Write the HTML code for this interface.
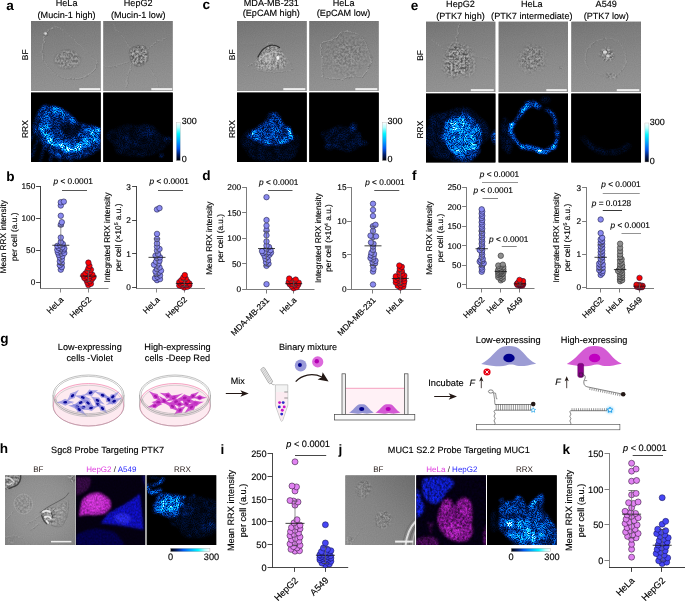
<!DOCTYPE html>
<html lang="en"><head><meta charset="utf-8"><title>Figure</title>
<style>html,body{margin:0;padding:0;background:#fff;}body{width:685px;height:601px;overflow:hidden;}svg{display:block;}</style>
</head><body>
<svg width="685" height="601" viewBox="0 0 685 601" font-family="'Liberation Sans', sans-serif" text-rendering="geometricPrecision">
<defs>
<linearGradient id="cbv" x1="0" y1="0" x2="0" y2="1">
 <stop offset="0" stop-color="#ffffff"/><stop offset="0.13" stop-color="#b8ffff"/><stop offset="0.3" stop-color="#00f6ff"/>
 <stop offset="0.5" stop-color="#00a4ff"/><stop offset="0.68" stop-color="#0058f0"/><stop offset="0.85" stop-color="#001c66"/><stop offset="1" stop-color="#000004"/>
</linearGradient>
<linearGradient id="cbh" x1="1" y1="0" x2="0" y2="0">
 <stop offset="0" stop-color="#ffffff"/><stop offset="0.13" stop-color="#b8ffff"/><stop offset="0.3" stop-color="#00f6ff"/>
 <stop offset="0.5" stop-color="#00a4ff"/><stop offset="0.68" stop-color="#0058f0"/><stop offset="0.85" stop-color="#001c66"/><stop offset="1" stop-color="#000004"/>
</linearGradient>
<linearGradient id="bfbg" x1="0" y1="0" x2="0.15" y2="1">
 <stop offset="0" stop-color="#737373"/><stop offset="0.25" stop-color="#7d7d7d"/><stop offset="0.6" stop-color="#898989"/><stop offset="1" stop-color="#939393"/>
</linearGradient>
<radialGradient id="bfbgh" cx="0.5" cy="0.5" r="0.8">
 <stop offset="0" stop-color="#989898"/><stop offset="0.5" stop-color="#919191"/><stop offset="1" stop-color="#7e7e7e"/>
</radialGradient>
<linearGradient id="bfbgj" x1="0" y1="1" x2="1" y2="0">
 <stop offset="0" stop-color="#909090"/><stop offset="0.5" stop-color="#858585"/><stop offset="1" stop-color="#6c6c6c"/>
</linearGradient>
<filter id="wob" x="-10%" y="-10%" width="120%" height="120%">
 <feTurbulence type="fractalNoise" baseFrequency="0.22" numOctaves="2" seed="5" result="t"/>
 <feDisplacementMap in="SourceGraphic" in2="t" scale="3.2" xChannelSelector="R" yChannelSelector="G" result="d"/>
 <feGaussianBlur in="d" stdDeviation="0.35"/>
</filter>
<filter id="grain" x="0" y="0" width="100%" height="100%" color-interpolation-filters="sRGB">
 <feTurbulence type="fractalNoise" baseFrequency="0.9" numOctaves="1" seed="4"/>
 <feColorMatrix type="matrix" values="1.6 0 0 0 -0.3  1.6 0 0 0 -0.3  1.6 0 0 0 -0.3  0 0 0 0 1"/>
</filter>
<filter id="celltex" x="0" y="0" width="100%" height="100%" color-interpolation-filters="sRGB">
 <feTurbulence type="fractalNoise" baseFrequency="0.49 0.43" numOctaves="3" seed="11"/>
 <feColorMatrix type="matrix" values="2.2 0 0 0 -0.6  2.2 0 0 0 -0.6  2.2 0 0 0 -0.6  0 0 0 0 1"/>
 <feGaussianBlur stdDeviation="0.35"/>
</filter>
<filter id="blur1" x="-20%" y="-20%" width="140%" height="140%"><feGaussianBlur stdDeviation="1"/></filter>
<filter id="blur05" x="-20%" y="-20%" width="140%" height="140%"><feGaussianBlur stdDeviation="0.5"/></filter>
<filter id="blur2" x="-30%" y="-30%" width="160%" height="160%"><feGaussianBlur stdDeviation="2"/></filter>
<filter id="blur3" x="-30%" y="-30%" width="160%" height="160%"><feGaussianBlur stdDeviation="3"/></filter>
<filter id="cyanhot" x="0" y="0" width="100%" height="100%" color-interpolation-filters="sRGB">
 <feTurbulence type="fractalNoise" baseFrequency="0.17 0.15" numOctaves="2" seed="3" result="lt"/>
 <feColorMatrix in="lt" type="matrix" values="2.6 0 0 0 -0.8  2.6 0 0 0 -0.8  2.6 0 0 0 -0.8  0 0 0 0 1" result="ln"/>
 <feComposite in="SourceGraphic" in2="ln" operator="arithmetic" k1="0.9" k2="0.58" k3="0" k4="0" result="env"/>
 <feTurbulence type="fractalNoise" baseFrequency="0.93 0.81" numOctaves="2" seed="7" result="t"/>
 <feColorMatrix in="t" type="matrix" values="3.2 0 0 0 -1.12  3.2 0 0 0 -1.12  3.2 0 0 0 -1.12  0 0 0 0 1" result="n"/>
 <feComposite in="env" in2="n" operator="arithmetic" k1="1.5" k2="0.5" k3="0" k4="0" result="m"/>
 <feGaussianBlur in="m" stdDeviation="0.62" result="mb"/>
 <feComponentTransfer in="mb">
  <feFuncR type="table" tableValues="0 0 0 0 0.05 0.6 1"/>
  <feFuncG type="table" tableValues="0 0.13 0.36 0.6 0.88 1 1"/>
  <feFuncB type="table" tableValues="0 0.42 0.85 1 1 1 1"/>
  <feFuncA type="linear" slope="0" intercept="1"/>
 </feComponentTransfer>
</filter>
<filter id="speck2b" x="0" y="0" width="100%" height="100%" color-interpolation-filters="sRGB">
 <feTurbulence type="fractalNoise" baseFrequency="0.43 0.37" numOctaves="3" seed="31" result="t"/>
 <feColorMatrix in="t" type="matrix" values="2.0 0 0 0 -0.5  2.0 0 0 0 -0.5  2.0 0 0 0 -0.5  0 0 0 0 1" result="n"/>
 <feComposite in="SourceGraphic" in2="n" operator="arithmetic" k1="0.9" k2="0.5" k3="0" k4="0" result="m"/>
 <feGaussianBlur in="m" stdDeviation="0.6" result="mb"/>
 <feComponentTransfer in="mb"><feFuncA type="linear" slope="0" intercept="1"/></feComponentTransfer>
</filter>
<filter id="speck2" x="0" y="0" width="100%" height="100%" color-interpolation-filters="sRGB">
 <feTurbulence type="fractalNoise" baseFrequency="0.55 0.5" numOctaves="3" seed="23" result="t"/>
 <feColorMatrix in="t" type="matrix" values="1.6 0 0 0 -0.3  1.6 0 0 0 -0.3  1.6 0 0 0 -0.3  0 0 0 0 1" result="n"/>
 <feComposite in="SourceGraphic" in2="n" operator="arithmetic" k1="0.5" k2="0.78" k3="0" k4="0" result="m"/>
 <feGaussianBlur in="m" stdDeviation="0.45" result="mb"/>
 <feComponentTransfer in="mb"><feFuncA type="linear" slope="0" intercept="1"/></feComponentTransfer>
</filter>
</defs>
<rect width="685" height="601" fill="#fff"/>
<g id="top-images"><clipPath id="c1"><rect x="31" y="21" width="69.75" height="69.9"/></clipPath><g clip-path="url(#c1)"><rect x="31" y="21" width="69.75" height="69.9" fill="#7a7a7a"/><rect x="31" y="21" width="69.75" height="69.9" fill="url(#bfbg)"/><rect x="31" y="21" width="69.75" height="69.9" filter="url(#grain)" opacity="0.03"/><mask id="m1" maskUnits="userSpaceOnUse" x="31" y="21" width="69.75" height="69.9"><g filter="url(#blur1)"><ellipse cx="67.4" cy="59.6" rx="12.5" ry="9.5" fill="#fff"/></g></mask><g mask="url(#m1)"><rect x="31" y="21" width="69.75" height="69.9" filter="url(#celltex)" opacity="0.2"/></g><g filter="url(#wob)"><path d="M45.5,35 C42,45 41,55 44,60 C47,66 54,74 60,77 C68,80 80,80 88,75 C94,71 98,66 97,62 C92,56 84,50 76,42 C70,36 62,28 56,27 C52,27 48,30 46,33" fill="none" stroke="#b4b4b4" stroke-width="0.9" opacity="0.6" stroke-linecap="round" stroke-linejoin="round" stroke-dasharray="1.6 1.1"/><path d="M45.5,35 C42,45 41,55 44,60 C47,66 54,74 60,77 C68,80 80,80 88,75 C94,71 98,66 97,62 C92,56 84,50 76,42 C70,36 62,28 56,27 C52,27 48,30 46,33" fill="none" stroke="#505050" stroke-width="0.7" opacity="0.48" stroke-linecap="round" stroke-linejoin="round" transform="translate(0.7,0.5)" stroke-dasharray="1.3 1.4"/></g><circle cx="45.3" cy="33.2" r="1.5" fill="#d8d8d8" filter="url(#blur05)"/><circle cx="46" cy="34" r="2" fill="none" stroke="#555" stroke-width="0.5" opacity="0.7"/><path d="M80.1,57.1Q81.6,59.6 80.7,62.4Q79.7,65.1 76.8,66.7Q73.8,68.2 70.6,68.9Q67.4,69.6 63.9,69.3Q60.4,69.1 57.9,67.0Q55.4,65.0 54.5,62.3Q53.6,59.6 54.8,57.0Q56.0,54.5 58.3,52.4Q60.6,50.4 64.0,49.7Q67.4,49.0 70.8,49.7Q74.2,50.4 76.4,52.5Q78.6,54.6 80.1,57.1Z" fill="none" stroke="#5e5e5e" stroke-width="0.8" opacity="0.22" stroke-linecap="round" stroke-linejoin="round" filter="url(#blur05)"/><rect x="79.3" y="88.1" width="21" height="2.1" fill="#eee"/></g>
<clipPath id="c2"><rect x="103.25" y="21" width="69.5" height="69.9"/></clipPath><g clip-path="url(#c2)"><rect x="103.25" y="21" width="69.5" height="69.9" fill="#7a7a7a"/><rect x="103.25" y="21" width="69.5" height="69.9" fill="url(#bfbg)"/><rect x="103.25" y="21" width="69.5" height="69.9" filter="url(#grain)" opacity="0.03"/><mask id="m2" maskUnits="userSpaceOnUse" x="103.25" y="21" width="69.5" height="69.9"><g filter="url(#blur1)"><path d="M147.8,52.9Q148.2,55.5 147.9,58.2Q147.6,60.8 145.6,62.6Q143.6,64.3 141.2,65.3Q138.8,66.3 136.2,65.6Q133.6,64.9 132.3,62.5Q131.0,60.2 130.5,57.9Q130.0,55.5 129.7,52.7Q129.4,49.8 131.8,48.4Q134.1,46.9 136.4,46.3Q138.8,45.7 141.6,45.5Q144.4,45.3 145.9,47.8Q147.4,50.3 147.8,52.9Z" fill="#fff"/></g></mask><g mask="url(#m2)"><rect x="103.25" y="21" width="69.5" height="69.9" filter="url(#celltex)" opacity="0.36"/></g><g filter="url(#wob)"><path d="M128,62 C120,64 112,68 104,66 M130,48 C124,38 118,30 112,24 M147,50 C152,44 158,40 166,38 M146,64 C152,70 156,78 158,86 M132,64 C128,72 126,80 127,88" fill="none" stroke="#b4b4b4" stroke-width="0.9" opacity="0.4" stroke-linecap="round" stroke-linejoin="round" stroke-dasharray="1.6 1.1"/><path d="M128,62 C120,64 112,68 104,66 M130,48 C124,38 118,30 112,24 M147,50 C152,44 158,40 166,38 M146,64 C152,70 156,78 158,86 M132,64 C128,72 126,80 127,88" fill="none" stroke="#505050" stroke-width="0.7" opacity="0.32000000000000006" stroke-linecap="round" stroke-linejoin="round" transform="translate(0.7,0.5)" stroke-dasharray="1.3 1.4"/></g><path d="M148.3,52.8Q148.7,55.5 148.4,58.3Q148.0,61.0 145.9,62.9Q143.9,64.8 141.4,65.8Q138.8,66.7 136.1,66.0Q133.4,65.3 132.0,62.9Q130.5,60.5 129.9,58.0Q129.3,55.5 129.2,52.6Q129.1,49.6 131.4,48.0Q133.8,46.4 136.3,45.8Q138.8,45.1 141.7,45.1Q144.6,45.0 146.2,47.5Q147.8,50.0 148.3,52.8Z" fill="none" stroke="#4a4a4a" stroke-width="0.9" opacity="0.3" stroke-linecap="round" stroke-linejoin="round" filter="url(#blur05)"/><rect x="151.3" y="88.1" width="21" height="2.1" fill="#eee"/></g>
<clipPath id="c3"><rect x="31" y="92.5" width="69.75" height="69.5"/></clipPath><g clip-path="url(#c3)"><rect x="31" y="92.5" width="69.75" height="69.5" fill="#000"/><g filter="url(#cyanhot)"><rect x="31" y="92.5" width="69.75" height="69.5" fill="#000"/><g filter="url(#blur1)"><path d="M33,127 C36,115 40,106 44,105 C48,104 52,106 55,106 C62,108 66,111 70,114 C74,117 76,121 78,122 C84,124 90,125 96,126 L101,129 L101,148 C94,154 86,158 78,158.5 C70,160 62,159 54,157 C48,152 43,146 40,141 C37,137 34,132 33,127Z" fill="#fff" opacity="0.13"/><path d="M44,126 C44,120 44,116 46,113 C48,110 51,109 54,109.5 C58,110 62,113 66,115.5 C69,118 71,120 73,122" fill="none" stroke="#fff" stroke-width="6.5" opacity="0.11" stroke-linecap="round" stroke-linejoin="round"/><path d="M43.8,125.8 C44,130 46,133 48.5,136.3 C51,140 54,142.5 57.8,144.4 C61,146 64,147.5 68.3,147.9 C73,148 77,147 81.1,145.6 C85,144 88,142 91.6,138.6 C94,136 95,134 96.2,131.6" fill="none" stroke="#fff" stroke-width="9" opacity="0.175" stroke-linecap="round" stroke-linejoin="round"/><path d="M50,139 C56,145 62,148 68.3,148.5 C74,148.5 80,147 86,143" fill="none" stroke="#fff" stroke-width="4.5" opacity="0.12" stroke-linecap="round" stroke-linejoin="round"/><path d="M58,146 C62,148.5 70,149.5 76,148" fill="none" stroke="#fff" stroke-width="2.5" opacity="0.1" stroke-linecap="round" stroke-linejoin="round"/><path d="M86,130 L100,133 M84,137 L100,140 M88,134 L98,136" fill="none" stroke="#fff" stroke-width="2" opacity="0.15" stroke-linecap="round" stroke-linejoin="round"/><path d="M38,140 L32,156 M44,148 L40,161 M52,154 L50,162 M35,130 L31,140 M60,155 L60,162 M70,156 L72,162" fill="none" stroke="#fff" stroke-width="2.5" opacity="0.08" stroke-linecap="round" stroke-linejoin="round"/><path d="M60,128 C62,122 68,121 74,122 C78,123 82,125 84,128 C80,132 78,136 72,137 C66,138 60,134 60,128Z" fill="#000" opacity="0.6" filter="url(#blur1)"/></g></g></g>
<clipPath id="c4"><rect x="103.25" y="92.5" width="69.5" height="69.5"/></clipPath><g clip-path="url(#c4)"><rect x="103.25" y="92.5" width="69.5" height="69.5" fill="#000"/><g filter="url(#cyanhot)"><rect x="103.25" y="92.5" width="69.5" height="69.5" fill="#000"/><g filter="url(#blur1)"><path d="M164.9,137.1Q168.5,140.0 167.6,143.6Q166.6,147.1 162.3,150.1Q157.9,153.1 151.4,155.2Q144.9,157.2 137.3,156.6Q129.7,156.0 122.4,154.9Q115.1,153.7 115.1,149.5Q115.1,145.3 111.2,142.6Q107.4,140.0 106.3,136.2Q105.2,132.3 111.2,130.0Q117.2,127.6 123.2,125.3Q129.3,123.0 135.9,125.3Q142.6,127.6 149.1,128.0Q155.5,128.4 158.4,131.3Q161.3,134.2 164.9,137.1Z" fill="#fff" opacity="0.03"/><path d="M155.1,128.0Q156.1,130.0 155.1,132.0Q154.2,134.0 151.5,134.8Q148.8,135.7 146.1,135.4Q143.5,135.2 141.8,134.0Q140.2,132.8 138.3,131.4Q136.4,130.0 137.6,128.3Q138.8,126.5 140.9,125.1Q142.9,123.7 145.8,124.1Q148.6,124.6 151.4,125.3Q154.1,126.1 155.1,128.0Z" fill="#fff" opacity="0.045"/><path d="M171.3,138.6Q171.7,140.0 171.1,141.2Q170.4,142.4 169.2,143.3Q168.0,144.2 166.8,143.3Q165.7,142.3 164.8,141.2Q163.9,140.0 164.6,138.7Q165.3,137.3 166.7,137.0Q168.0,136.7 169.4,136.9Q170.8,137.2 171.3,138.6Z" fill="#fff" opacity="0.07"/><path d="M135.6,140.5Q136.9,143.0 136.6,146.4Q136.4,149.7 132.2,149.8Q128.0,149.8 124.2,149.5Q120.3,149.1 120.0,146.1Q119.7,143.0 120.7,140.5Q121.6,137.9 124.8,135.7Q128.0,133.4 131.1,135.7Q134.2,138.0 135.6,140.5Z" fill="#fff" opacity="0.02"/><circle cx="161.5" cy="155.5" r="1.2" fill="#fff" opacity="0.35"/></g></g></g>
<clipPath id="c5"><rect x="237" y="21" width="69.75" height="69.9"/></clipPath><g clip-path="url(#c5)"><rect x="237" y="21" width="69.75" height="69.9" fill="#7a7a7a"/><rect x="237" y="21" width="69.75" height="69.9" fill="url(#bfbg)"/><rect x="237" y="21" width="69.75" height="69.9" filter="url(#grain)" opacity="0.03"/><mask id="m3" maskUnits="userSpaceOnUse" x="237" y="21" width="69.75" height="69.9"><g filter="url(#blur1)"><path d="M255.5,65 C258,58 261,49 269.5,45.5 C277,44 283.5,51 286.5,61 C288,66 284,69 272,70 C262,70.5 255,69 255.5,65Z" fill="#fff"/></g></mask><g mask="url(#m3)"><rect x="237" y="21" width="69.75" height="69.9" filter="url(#celltex)" opacity="0.34"/></g><path d="M255.5,65 C258,58 261,49 269.5,45.5 C277,44 283.5,51 286.5,61 C288,66 284,69 272,70 C262,70.5 255,69 255.5,65Z" fill="#fff" opacity="0.13" filter="url(#blur1)"/><path d="M258,57 C260.5,51 264,47 270,45.3 C274,44.6 277,45.5 279.5,47.5" fill="none" stroke="#1e1e1e" stroke-width="1.25" opacity="0.8" stroke-linecap="round" stroke-linejoin="round" filter="url(#blur05)"/><ellipse cx="277.8" cy="58" rx="1.5" ry="2.1" fill="#f4f4f4" filter="url(#blur05)"/><ellipse cx="268" cy="59" rx="5" ry="4" fill="#c8c8c8" opacity="0.45" filter="url(#blur1)"/><path d="M260,60 C264,54 271,50.5 280,53" fill="none" stroke="#d8d8d8" stroke-width="1.0" opacity="0.5" stroke-linecap="round" stroke-linejoin="round" filter="url(#blur05)"/><g filter="url(#wob)"><path d="M248,66 C252,63 255,61 257,59 M286.5,58 C289,62 291,66 293,69 M266,46 C268,43 271,42 274,43.5 M252,68 C262,73 282,73 292,69" fill="none" stroke="#b4b4b4" stroke-width="0.9" opacity="0.45" stroke-linecap="round" stroke-linejoin="round" stroke-dasharray="1.6 1.1"/><path d="M248,66 C252,63 255,61 257,59 M286.5,58 C289,62 291,66 293,69 M266,46 C268,43 271,42 274,43.5 M252,68 C262,73 282,73 292,69" fill="none" stroke="#505050" stroke-width="0.7" opacity="0.36000000000000004" stroke-linecap="round" stroke-linejoin="round" transform="translate(0.7,0.5)" stroke-dasharray="1.3 1.4"/></g><rect x="283.3" y="88.1" width="22" height="2.1" fill="#eee"/></g>
<clipPath id="c6"><rect x="309.25" y="21" width="69.5" height="69.9"/></clipPath><g clip-path="url(#c6)"><rect x="309.25" y="21" width="69.5" height="69.9" fill="#7a7a7a"/><rect x="309.25" y="21" width="69.5" height="69.9" fill="url(#bfbg)"/><rect x="309.25" y="21" width="69.5" height="69.9" filter="url(#grain)" opacity="0.03"/><mask id="m4" maskUnits="userSpaceOnUse" x="309.25" y="21" width="69.5" height="69.9"><g filter="url(#blur1)"><path d="M368.6,50.1Q369.8,55.0 368.4,59.8Q367.0,64.7 363.3,68.0Q359.7,71.4 355.7,75.4Q351.8,79.4 346.6,77.1Q341.3,74.8 336.2,73.9Q331.0,73.0 326.7,69.5Q322.3,65.9 323.4,60.5Q324.4,55.0 324.3,49.9Q324.1,44.9 327.4,40.7Q330.6,36.5 335.9,35.8Q341.2,35.0 346.2,34.1Q351.2,33.2 356.4,34.7Q361.7,36.1 364.5,40.6Q367.4,45.1 368.6,50.1Z" fill="#666"/><path d="M361.0,50.3Q361.3,54.0 360.1,57.2Q358.9,60.4 356.5,62.9Q354.2,65.5 350.6,65.7Q347.0,65.9 343.2,66.1Q339.3,66.3 336.5,63.7Q333.7,61.1 333.0,57.6Q332.4,54.0 334.2,51.1Q336.1,48.2 338.0,45.4Q340.0,42.7 343.5,42.2Q347.0,41.7 350.2,42.6Q353.5,43.6 357.1,45.1Q360.8,46.6 361.0,50.3Z" fill="#bbb"/></g></mask><g mask="url(#m4)"><rect x="309.25" y="21" width="69.5" height="69.9" filter="url(#celltex)" opacity="0.22"/></g><g filter="url(#wob)"><path d="M321,44 C326,40 330,42 336,38 C340,32 348,30 354,33 C360,34 364,38 366,44 C368,52 372,56 371,62 C368,68 366,72 362,77 C356,76 350,76 344,78 C338,80 330,79 323,77 C321,70 323,64 322,58 C320,52 320,48 321,44Z" fill="none" stroke="#b4b4b4" stroke-width="0.9" opacity="0.7" stroke-linecap="round" stroke-linejoin="round" stroke-dasharray="1.6 1.1"/><path d="M321,44 C326,40 330,42 336,38 C340,32 348,30 354,33 C360,34 364,38 366,44 C368,52 372,56 371,62 C368,68 366,72 362,77 C356,76 350,76 344,78 C338,80 330,79 323,77 C321,70 323,64 322,58 C320,52 320,48 321,44Z" fill="none" stroke="#505050" stroke-width="0.7" opacity="0.5599999999999999" stroke-linecap="round" stroke-linejoin="round" transform="translate(0.7,0.5)" stroke-dasharray="1.3 1.4"/></g><rect x="355.3" y="88.1" width="22" height="2.1" fill="#eee"/></g>
<clipPath id="c7"><rect x="237" y="92.5" width="69.75" height="69.5"/></clipPath><g clip-path="url(#c7)"><rect x="237" y="92.5" width="69.75" height="69.5" fill="#000"/><g filter="url(#cyanhot)"><rect x="237" y="92.5" width="69.75" height="69.5" fill="#000"/><g filter="url(#blur1)"><path d="M299.9,139.6Q299.4,144.0 298.6,148.0Q297.7,152.0 294.8,156.2Q291.9,160.5 284.2,160.9Q276.6,161.3 269.9,161.5Q263.3,161.6 257.0,160.1Q250.6,158.6 248.5,154.7Q246.4,150.8 243.1,147.4Q239.9,144.0 240.7,139.9Q241.6,135.8 245.3,132.0Q249.1,128.3 256.8,128.8Q264.4,129.3 270.3,128.6Q276.2,127.8 280.9,130.0Q285.6,132.2 293.0,133.7Q300.4,135.2 299.9,139.6Z" fill="#fff" opacity="0.035"/><path d="M248,136 C252,130 256,127 262,124 C266,121 268,114 274,113 C280,113 281,120 284,124 C288,127 292,132 293,139 C286,143 278,145 270,145 C262,144 254,141 248,136Z" fill="#fff" opacity="0.15"/><path d="M249,136.5 L256,131 M288.5,128 L292,138" fill="none" stroke="#fff" stroke-width="2.4" opacity="0.32" stroke-linecap="round" stroke-linejoin="round"/><path d="M256,140 C264,143.5 276,144.5 288,141" fill="none" stroke="#fff" stroke-width="2.6" opacity="0.12" stroke-linecap="round" stroke-linejoin="round"/><path d="M268,116 C270,112 278,112 280,117" fill="none" stroke="#fff" stroke-width="2" opacity="0.08" stroke-linecap="round" stroke-linejoin="round"/></g></g></g>
<clipPath id="c8"><rect x="309.25" y="92.5" width="69.5" height="69.5"/></clipPath><g clip-path="url(#c8)"><rect x="309.25" y="92.5" width="69.5" height="69.5" fill="#000"/><g filter="url(#cyanhot)"><rect x="309.25" y="92.5" width="69.5" height="69.5" fill="#000"/><g filter="url(#blur1)"><path d="M361.2,135.3Q361.3,138.0 362.5,141.1Q363.7,144.2 360.3,146.6Q357.0,149.1 352.4,151.0Q347.8,152.9 342.8,150.8Q337.9,148.7 334.0,147.7Q330.1,146.8 327.9,144.7Q325.7,142.6 324.3,140.3Q323.0,138.0 321.4,134.8Q319.9,131.7 325.3,130.7Q330.8,129.7 333.9,127.4Q337.0,125.1 341.6,126.1Q346.2,127.1 350.3,128.0Q354.3,128.9 357.7,130.7Q361.1,132.6 361.2,135.3Z" fill="#fff" opacity="0.045"/><path d="M356.7,125.0Q356.9,126.5 356.7,128.0Q356.6,129.6 355.0,130.2Q353.5,130.7 351.8,130.3Q350.2,129.8 350.0,128.2Q349.9,126.5 350.4,125.2Q350.9,123.9 352.2,123.0Q353.5,122.1 355.0,122.8Q356.5,123.5 356.7,125.0Z" fill="#fff" opacity="0.09"/><path d="M335.8,144.5Q337.1,146.0 335.3,147.1Q333.4,148.3 331.7,149.3Q330.0,150.4 328.2,149.4Q326.3,148.4 324.6,147.2Q322.8,146.0 324.7,144.9Q326.6,143.7 328.3,142.6Q330.0,141.4 332.3,142.2Q334.6,143.0 335.8,144.5Z" fill="#fff" opacity="0.05"/><path d="M367.9,141.9Q368.6,143.0 367.8,144.1Q366.9,145.1 364.5,145.5Q362.0,145.9 359.6,145.5Q357.2,145.1 356.2,144.0Q355.3,143.0 356.0,141.9Q356.7,140.7 359.4,140.5Q362.0,140.3 364.6,140.5Q367.2,140.8 367.9,141.9Z" fill="#fff" opacity="0.04"/></g></g></g>
<clipPath id="c9"><rect x="426" y="21.5" width="69.5" height="70.6"/></clipPath><g clip-path="url(#c9)"><rect x="426" y="21.5" width="69.5" height="70.6" fill="#7a7a7a"/><rect x="426" y="21.5" width="69.5" height="70.6" fill="url(#bfbg)"/><rect x="426" y="21.5" width="69.5" height="70.6" filter="url(#grain)" opacity="0.03"/><mask id="m5" maskUnits="userSpaceOnUse" x="426" y="21.5" width="69.5" height="70.6"><g filter="url(#blur1)"><path d="M474.6,56.2Q476.2,60.0 476.2,64.6Q476.2,69.3 473.7,73.4Q471.3,77.6 466.5,77.3Q461.7,77.0 457.6,78.7Q453.6,80.5 449.7,78.3Q445.9,76.1 443.3,72.4Q440.7,68.8 441.8,64.4Q442.8,60.0 443.8,56.7Q444.9,53.3 446.1,49.6Q447.3,45.8 450.4,42.7Q453.6,39.7 457.6,41.5Q461.6,43.3 465.4,44.2Q469.2,45.1 471.1,48.7Q473.0,52.4 474.6,56.2Z" fill="#666"/><path d="M468.6,57.2Q469.6,60.0 469.6,63.4Q469.6,66.8 468.0,69.9Q466.4,73.0 463.2,72.7Q459.9,72.5 457.2,73.8Q454.5,75.1 452.0,73.5Q449.4,71.8 447.7,69.2Q446.0,66.5 446.7,63.2Q447.4,60.0 448.1,57.5Q448.7,55.1 449.5,52.3Q450.4,49.6 452.5,47.3Q454.6,45.0 457.2,46.4Q459.9,47.7 462.4,48.4Q465.0,49.0 466.3,51.7Q467.5,54.4 468.6,57.2Z" fill="#fff"/></g></mask><g mask="url(#m5)"><rect x="426" y="21.5" width="69.5" height="70.6" filter="url(#celltex)" opacity="0.38"/></g><g filter="url(#wob)"><path d="M456,44 C457,36 458,30 459,24 M446,50 C440,46 436,42 432,40 M470,56 C478,56 484,58 490,60" fill="none" stroke="#b4b4b4" stroke-width="0.9" opacity="0.5" stroke-linecap="round" stroke-linejoin="round" stroke-dasharray="1.6 1.1"/><path d="M456,44 C457,36 458,30 459,24 M446,50 C440,46 436,42 432,40 M470,56 C478,56 484,58 490,60" fill="none" stroke="#505050" stroke-width="0.7" opacity="0.4" stroke-linecap="round" stroke-linejoin="round" transform="translate(0.7,0.5)" stroke-dasharray="1.3 1.4"/></g><rect x="470.8" y="89.1" width="23" height="2.1" fill="#eee"/></g>
<clipPath id="c10"><rect x="498.5" y="21.5" width="69.5" height="70.6"/></clipPath><g clip-path="url(#c10)"><rect x="498.5" y="21.5" width="69.5" height="70.6" fill="#7a7a7a"/><rect x="498.5" y="21.5" width="69.5" height="70.6" fill="url(#bfbg)"/><rect x="498.5" y="21.5" width="69.5" height="70.6" filter="url(#grain)" opacity="0.03"/><mask id="m6" maskUnits="userSpaceOnUse" x="498.5" y="21.5" width="69.5" height="70.6"><g filter="url(#blur1)"><path d="M547.0,55.1Q546.0,59.0 546.7,62.7Q547.3,66.4 544.3,68.5Q541.3,70.7 538.2,71.7Q535.1,72.7 531.8,73.6Q528.5,74.5 525.3,73.0Q522.0,71.5 519.9,68.7Q517.7,65.9 517.0,62.4Q516.3,59.0 517.6,55.9Q518.9,52.7 521.0,50.2Q523.0,47.7 525.6,45.0Q528.2,42.2 531.7,43.4Q535.3,44.5 539.0,45.1Q542.7,45.6 545.4,48.4Q548.1,51.3 547.0,55.1Z" fill="#555"/><path d="M542.3,56.3Q541.6,59.0 542.1,61.5Q542.6,64.1 540.5,65.6Q538.4,67.0 536.3,67.7Q534.2,68.4 531.9,69.1Q529.6,69.7 527.4,68.6Q525.2,67.6 523.7,65.7Q522.2,63.7 521.7,61.4Q521.2,59.0 522.1,56.8Q523.0,54.7 524.4,53.0Q525.8,51.2 527.6,49.3Q529.4,47.5 531.8,48.2Q534.3,49.0 536.8,49.4Q539.3,49.8 541.2,51.7Q543.0,53.7 542.3,56.3Z" fill="#ddd"/><circle cx="561" cy="68" r="1.6" fill="#fff"/></g></mask><g mask="url(#m6)"><rect x="498.5" y="21.5" width="69.5" height="70.6" filter="url(#celltex)" opacity="0.3"/></g><rect x="546.3" y="89.1" width="20.5" height="2.1" fill="#eee"/></g>
<clipPath id="c11"><rect x="571.25" y="21.5" width="69.75" height="70.6"/></clipPath><g clip-path="url(#c11)"><rect x="571.25" y="21.5" width="69.75" height="70.6" fill="#7a7a7a"/><rect x="571.25" y="21.5" width="69.75" height="70.6" fill="url(#bfbg)"/><rect x="571.25" y="21.5" width="69.75" height="70.6" filter="url(#grain)" opacity="0.03"/><mask id="m7" maskUnits="userSpaceOnUse" x="571.25" y="21.5" width="69.75" height="70.6"><g filter="url(#blur1)"><path d="M613.3,52.0Q614.4,54.0 613.8,56.4Q613.1,58.8 611.2,60.0Q609.2,61.2 607.0,61.2Q604.8,61.2 603.2,59.7Q601.5,58.3 600.2,56.1Q599.0,54.0 600.3,51.9Q601.7,49.9 603.4,48.7Q605.1,47.6 607.0,47.5Q609.0,47.4 610.6,48.6Q612.3,49.9 613.3,52.0Z" fill="#fff"/><path d="M617.5,75.2Q619.1,76.0 618.1,76.9Q617.1,77.9 615.2,78.5Q613.4,79.2 610.9,79.2Q608.5,79.3 607.2,78.5Q605.9,77.6 604.8,76.8Q603.6,76.0 604.0,75.0Q604.4,74.0 606.5,73.3Q608.5,72.7 610.9,72.9Q613.2,73.1 614.6,73.8Q615.9,74.5 617.5,75.2Z" fill="#aaa"/></g></mask><g mask="url(#m7)"><rect x="571.25" y="21.5" width="69.75" height="70.6" filter="url(#celltex)" opacity="0.32"/></g><g filter="url(#wob)"><path d="M624.7,53.0Q625.9,57.0 625.7,61.5Q625.5,65.9 622.4,69.5Q619.4,73.0 615.0,74.7Q610.7,76.4 606.1,76.0Q601.5,75.6 596.9,74.5Q592.3,73.4 589.2,69.7Q586.1,66.1 585.6,61.6Q585.0,57.0 586.0,52.7Q587.1,48.3 590.3,45.2Q593.5,42.0 597.6,40.5Q601.7,39.1 606.1,38.5Q610.6,37.9 614.9,39.5Q619.3,41.1 621.4,45.0Q623.6,48.9 624.7,53.0Z" fill="none" stroke="#b4b4b4" stroke-width="0.9" opacity="0.4" stroke-linecap="round" stroke-linejoin="round" stroke-dasharray="1.6 1.1"/><path d="M624.7,53.0Q625.9,57.0 625.7,61.5Q625.5,65.9 622.4,69.5Q619.4,73.0 615.0,74.7Q610.7,76.4 606.1,76.0Q601.5,75.6 596.9,74.5Q592.3,73.4 589.2,69.7Q586.1,66.1 585.6,61.6Q585.0,57.0 586.0,52.7Q587.1,48.3 590.3,45.2Q593.5,42.0 597.6,40.5Q601.7,39.1 606.1,38.5Q610.6,37.9 614.9,39.5Q619.3,41.1 621.4,45.0Q623.6,48.9 624.7,53.0Z" fill="none" stroke="#505050" stroke-width="0.7" opacity="0.32000000000000006" stroke-linecap="round" stroke-linejoin="round" transform="translate(0.7,0.5)" stroke-dasharray="1.3 1.4"/></g><ellipse cx="605" cy="52" rx="2.2" ry="1.6" fill="#d8d8d8" filter="url(#blur05)"/><ellipse cx="608" cy="56" rx="1.8" ry="1.4" fill="#cfcfcf" filter="url(#blur05)"/><rect x="616.8" y="89.1" width="22.5" height="2.1" fill="#eee"/></g>
<clipPath id="c12"><rect x="426" y="93.5" width="69.5" height="69.1"/></clipPath><g clip-path="url(#c12)"><rect x="426" y="93.5" width="69.5" height="69.1" fill="#000"/><g filter="url(#cyanhot)"><rect x="426" y="93.5" width="69.5" height="69.1" fill="#000"/><g filter="url(#blur1)"><path d="M490.1,130.7Q491.7,137.0 485.6,141.6Q479.5,146.2 476.1,149.6Q472.7,153.0 471.0,160.5Q469.2,168.0 462.1,164.7Q455.0,161.5 450.0,160.2Q444.9,158.9 438.3,158.5Q431.8,158.0 429.9,152.5Q428.1,147.1 423.6,142.0Q419.2,137.0 424.3,132.2Q429.4,127.4 429.2,120.5Q429.1,113.6 436.5,113.3Q444.0,113.0 449.5,110.4Q455.0,107.9 462.0,107.3Q468.9,106.7 473.7,111.2Q478.5,115.7 483.5,120.1Q488.5,124.5 490.1,130.7Z" fill="#fff" opacity="0.045"/><path d="M481.1,130.0Q482.6,134.0 482.0,138.3Q481.4,142.6 479.2,146.2Q477.1,149.8 472.4,149.3Q467.8,148.9 465.6,152.2Q463.4,155.5 460.1,154.8Q456.8,154.0 453.6,153.2Q450.4,152.4 449.1,148.9Q447.8,145.3 446.2,142.8Q444.6,140.2 443.0,137.1Q441.5,134.0 442.9,130.8Q444.3,127.7 445.0,124.2Q445.7,120.8 449.1,120.2Q452.5,119.6 454.9,118.4Q457.3,117.1 460.5,114.2Q463.6,111.4 466.4,113.9Q469.2,116.4 471.9,118.4Q474.6,120.4 477.2,123.3Q479.7,126.1 481.1,130.0Z" fill="#fff" opacity="0.2"/><path d="M473.2,127.2Q473.5,131.0 473.1,134.8Q472.8,138.6 469.1,139.7Q465.3,140.9 463.6,145.1Q461.9,149.3 458.6,146.3Q455.4,143.4 451.9,143.6Q448.5,143.7 448.2,140.0Q448.0,136.2 445.1,133.6Q442.2,131.0 444.9,128.3Q447.6,125.6 448.0,121.8Q448.4,118.1 451.5,116.4Q454.5,114.7 458.0,114.6Q461.5,114.4 464.0,117.0Q466.5,119.6 469.7,121.5Q472.9,123.3 473.2,127.2Z" fill="#fff" opacity="0.09"/><path d="M480.1,148.6Q480.5,152.0 478.2,154.3Q475.8,156.7 474.0,158.4Q472.1,160.1 469.6,161.8Q467.0,163.6 464.7,161.5Q462.3,159.4 458.8,158.8Q455.2,158.3 454.3,155.1Q453.4,152.0 456.2,149.9Q459.0,147.8 459.7,144.7Q460.4,141.6 463.7,141.3Q467.0,141.0 470.2,141.4Q473.4,141.8 476.6,143.5Q479.7,145.3 480.1,148.6Z" fill="#fff" opacity="0.13"/><path d="M456.2,123.7Q456.7,125.0 456.8,126.8Q456.9,128.6 455.4,129.6Q453.8,130.6 452.2,129.8Q450.7,129.1 448.9,128.8Q447.2,128.5 446.9,126.7Q446.7,125.0 447.8,123.9Q448.9,122.7 449.5,121.0Q450.1,119.2 451.7,120.0Q453.4,120.8 454.5,121.6Q455.7,122.3 456.2,123.7Z" fill="#fff" opacity="0.12"/><path d="M451.8,137.6Q452.7,140.0 451.4,142.0Q450.1,144.0 448.9,145.2Q447.6,146.5 445.8,147.2Q444.1,148.0 443.1,145.8Q442.2,143.7 440.7,141.8Q439.2,140.0 439.8,137.3Q440.5,134.7 442.5,134.4Q444.6,134.1 446.3,132.9Q448.0,131.7 449.4,133.5Q450.9,135.3 451.8,137.6Z" fill="#fff" opacity="0.06"/><path d="M497.1,135.2Q497.7,137.0 497.4,139.2Q497.1,141.4 496.4,143.2Q495.6,144.9 494.6,143.9Q493.7,142.8 493.1,141.6Q492.5,140.4 491.8,138.7Q491.1,137.0 491.7,135.1Q492.2,133.2 492.9,131.9Q493.6,130.7 494.6,130.1Q495.5,129.5 496.1,131.5Q496.6,133.4 497.1,135.2Z" fill="#fff" opacity="0.16"/></g></g></g>
<clipPath id="c13"><rect x="498.5" y="93.5" width="69.5" height="69.1"/></clipPath><g clip-path="url(#c13)"><rect x="498.5" y="93.5" width="69.5" height="69.1" fill="#000"/><g filter="url(#cyanhot)"><rect x="498.5" y="93.5" width="69.5" height="69.1" fill="#000"/><g filter="url(#blur1)"><path d="M520,115.5 C522,110 526,106 530,105 C534,104 537,105 539,107" fill="none" stroke="#fff" stroke-width="4.5" opacity="0.26" stroke-linecap="round" stroke-linejoin="round"/><path d="M526,104 C530,101.5 534,102 536,104" fill="none" stroke="#fff" stroke-width="3.5" opacity="0.156" stroke-linecap="round" stroke-linejoin="round"/><path d="M546,110 C549,110 552,112.5 554,116.5 C555.5,119 555.5,121 555.5,123" fill="none" stroke="#fff" stroke-width="3.2" opacity="0.182" stroke-linecap="round" stroke-linejoin="round"/><path d="M519,117 C516,120 514,123 513,125" fill="none" stroke="#fff" stroke-width="2.8" opacity="0.156" stroke-linecap="round" stroke-linejoin="round"/><path d="M513,124 C510.5,127 510,131 513,136.5" fill="none" stroke="#fff" stroke-width="3.6" opacity="0.338" stroke-linecap="round" stroke-linejoin="round"/><path d="M513.5,137 C515,140 517,142.5 521.5,146.5" fill="none" stroke="#fff" stroke-width="2.8" opacity="0.221" stroke-linecap="round" stroke-linejoin="round"/><path d="M522,147 C527,147 532,147.5 537.6,149.8 C541,151.5 545,152.5 549,149.5 C551,148.5 553,147.5 554.5,146.5" fill="none" stroke="#fff" stroke-width="3.8" opacity="0.338" stroke-linecap="round" stroke-linejoin="round"/><path d="M537,150.5 C540,152.5 543,153.5 546,152" fill="none" stroke="#fff" stroke-width="2.8" opacity="0.286" stroke-linecap="round" stroke-linejoin="round"/><path d="M557,132 C558,134 557.5,136 556.5,141 C556,143 555,145 554,146.5" fill="none" stroke="#fff" stroke-width="2.8" opacity="0.221" stroke-linecap="round" stroke-linejoin="round"/><path d="M555.5,124 C556,127 556.5,129 557,132" fill="none" stroke="#fff" stroke-width="2.4" opacity="0.078" stroke-linecap="round" stroke-linejoin="round"/><path d="M558.4,132.3Q558.4,133.2 558.2,133.9Q558.0,134.5 557.4,134.9Q556.8,135.3 556.0,135.1Q555.3,134.9 555.2,134.0Q555.1,133.2 555.3,132.5Q555.6,131.9 556.2,131.6Q556.8,131.2 557.6,131.4Q558.4,131.5 558.4,132.3Z" fill="#fff" opacity="0.325"/><path d="M513.9,124.5Q514.1,125.2 513.8,125.8Q513.6,126.5 512.8,126.7Q512.0,127.0 511.0,126.9Q509.9,126.8 509.7,126.0Q509.5,125.2 509.8,124.4Q510.1,123.7 511.0,123.6Q512.0,123.5 512.9,123.7Q513.8,123.8 513.9,124.5Z" fill="#fff" opacity="0.286"/><path d="M514.2,130.8Q515.2,136.0 514.1,141.0Q513.1,145.9 511.4,150.7Q509.8,155.5 507.3,153.6Q504.7,151.7 502.6,149.1Q500.5,146.6 500.0,141.3Q499.5,136.0 500.1,130.9Q500.7,125.8 502.4,120.7Q504.1,115.6 506.6,118.6Q509.1,121.6 511.2,123.6Q513.3,125.7 514.2,130.8Z" fill="#fff" opacity="0.039"/><path d="M550.3,98.5Q551.1,100.0 550.0,101.3Q548.9,102.6 546.9,102.9Q545.0,103.2 542.7,103.1Q540.5,103.0 540.1,101.5Q539.7,100.0 540.4,98.7Q541.2,97.4 543.1,96.8Q545.0,96.2 547.2,96.6Q549.5,97.0 550.3,98.5Z" fill="#fff" opacity="0.033"/></g></g></g>
<clipPath id="c14"><rect x="571.25" y="93.5" width="69.75" height="69.1"/></clipPath><g clip-path="url(#c14)"><rect x="571.25" y="93.5" width="69.75" height="69.1" fill="#000"/><g filter="url(#cyanhot)"><rect x="571.25" y="93.5" width="69.75" height="69.1" fill="#000"/><g filter="url(#blur1)"><path d="M584,138 C592,152 612,158 628,146" fill="none" stroke="#fff" stroke-width="6" opacity="0.03" stroke-linecap="round" stroke-linejoin="round"/></g></g></g>
<rect x="176.3" y="122.3" width="4" height="38.3" fill="url(#cbv)" stroke="#bbb" stroke-width="0.4"/>
<text x="181.80" y="124.00" font-size="9.0" fill="#000" stroke="#000" stroke-width="0.14">300</text>
<text x="181.80" y="162.40" font-size="9.0" fill="#000" stroke="#000" stroke-width="0.14">0</text>
<rect x="382.3" y="122.3" width="4" height="38.3" fill="url(#cbv)" stroke="#bbb" stroke-width="0.4"/>
<text x="387.40" y="124.00" font-size="9.0" fill="#000" stroke="#000" stroke-width="0.14">300</text>
<text x="387.40" y="162.40" font-size="9.0" fill="#000" stroke="#000" stroke-width="0.14">0</text>
<rect x="644.9" y="123" width="4" height="39" fill="url(#cbv)" stroke="#bbb" stroke-width="0.4"/>
<text x="649.80" y="124.70" font-size="9.0" fill="#000" stroke="#000" stroke-width="0.14">300</text>
<text x="649.80" y="163.80" font-size="9.0" fill="#000" stroke="#000" stroke-width="0.14">0</text></g>
<g id="graphs"><line x1="40.50" y1="186.00" x2="40.50" y2="289.00" stroke="#333" stroke-width="0.9" />
<line x1="40.00" y1="288.50" x2="108.50" y2="288.50" stroke="#7c7c7c" stroke-width="0.9" />
<line x1="36.10" y1="282.50" x2="40.50" y2="282.50" stroke="#333" stroke-width="0.9" />
<text x="35.35" y="285.47" font-size="8.3" text-anchor="end" fill="#000" stroke="#000" stroke-width="0.14">0</text>
<line x1="36.10" y1="250.50" x2="40.50" y2="250.50" stroke="#333" stroke-width="0.9" />
<text x="35.35" y="253.22" font-size="8.3" text-anchor="end" fill="#000" stroke="#000" stroke-width="0.14">50</text>
<line x1="36.10" y1="218.50" x2="40.50" y2="218.50" stroke="#333" stroke-width="0.9" />
<text x="35.35" y="221.22" font-size="8.3" text-anchor="end" fill="#000" stroke="#000" stroke-width="0.14">100</text>
<line x1="36.10" y1="186.50" x2="40.50" y2="186.50" stroke="#333" stroke-width="0.9" />
<text x="35.35" y="189.22" font-size="8.3" text-anchor="end" fill="#000" stroke="#000" stroke-width="0.14">150</text>
<line x1="60.50" y1="288.50" x2="60.50" y2="292.50" stroke="#7c7c7c" stroke-width="0.9" />
<text x="64.10" y="300.15" font-size="8.3" text-anchor="end" fill="#000" stroke="#000" stroke-width="0.14" transform="rotate(-45 64.10 300.15)">HeLa</text>
<line x1="88.50" y1="288.50" x2="88.50" y2="292.50" stroke="#7c7c7c" stroke-width="0.9" />
<text x="91.70" y="300.15" font-size="8.3" text-anchor="end" fill="#000" stroke="#000" stroke-width="0.14" transform="rotate(-45 91.70 300.15)">HepG2</text>
<circle cx="60.80" cy="269.67" r="2.75" fill="#8a8af0" stroke="#15153a" stroke-width="0.55"/>
<circle cx="61.80" cy="267.10" r="2.75" fill="#8a8af0" stroke="#15153a" stroke-width="0.55"/>
<circle cx="59.80" cy="265.18" r="2.75" fill="#8a8af0" stroke="#15153a" stroke-width="0.55"/>
<circle cx="61.80" cy="263.25" r="2.75" fill="#8a8af0" stroke="#15153a" stroke-width="0.55"/>
<circle cx="59.80" cy="261.32" r="2.75" fill="#8a8af0" stroke="#15153a" stroke-width="0.55"/>
<circle cx="61.80" cy="259.40" r="2.75" fill="#8a8af0" stroke="#15153a" stroke-width="0.55"/>
<circle cx="59.80" cy="257.48" r="2.75" fill="#8a8af0" stroke="#15153a" stroke-width="0.55"/>
<circle cx="62.30" cy="256.19" r="2.75" fill="#8a8af0" stroke="#15153a" stroke-width="0.55"/>
<circle cx="58.80" cy="254.91" r="2.75" fill="#8a8af0" stroke="#15153a" stroke-width="0.55"/>
<circle cx="61.30" cy="253.62" r="2.75" fill="#8a8af0" stroke="#15153a" stroke-width="0.55"/>
<circle cx="64.30" cy="252.98" r="2.75" fill="#8a8af0" stroke="#15153a" stroke-width="0.55"/>
<circle cx="57.80" cy="252.34" r="2.75" fill="#8a8af0" stroke="#15153a" stroke-width="0.55"/>
<circle cx="60.30" cy="251.06" r="2.75" fill="#8a8af0" stroke="#15153a" stroke-width="0.55"/>
<circle cx="63.30" cy="250.42" r="2.75" fill="#8a8af0" stroke="#15153a" stroke-width="0.55"/>
<circle cx="57.30" cy="249.78" r="2.75" fill="#8a8af0" stroke="#15153a" stroke-width="0.55"/>
<circle cx="61.30" cy="249.13" r="2.75" fill="#8a8af0" stroke="#15153a" stroke-width="0.55"/>
<circle cx="64.30" cy="248.49" r="2.75" fill="#8a8af0" stroke="#15153a" stroke-width="0.55"/>
<circle cx="58.80" cy="247.85" r="2.75" fill="#8a8af0" stroke="#15153a" stroke-width="0.55"/>
<circle cx="62.30" cy="247.21" r="2.75" fill="#8a8af0" stroke="#15153a" stroke-width="0.55"/>
<circle cx="57.30" cy="245.93" r="2.75" fill="#8a8af0" stroke="#15153a" stroke-width="0.55"/>
<circle cx="60.30" cy="245.28" r="2.75" fill="#8a8af0" stroke="#15153a" stroke-width="0.55"/>
<circle cx="62.80" cy="244.00" r="2.75" fill="#8a8af0" stroke="#15153a" stroke-width="0.55"/>
<circle cx="60.80" cy="242.07" r="2.75" fill="#8a8af0" stroke="#15153a" stroke-width="0.55"/>
<circle cx="60.80" cy="237.58" r="2.75" fill="#8a8af0" stroke="#15153a" stroke-width="0.55"/>
<circle cx="60.80" cy="224.75" r="2.75" fill="#8a8af0" stroke="#15153a" stroke-width="0.55"/>
<circle cx="61.80" cy="222.18" r="2.75" fill="#8a8af0" stroke="#15153a" stroke-width="0.55"/>
<circle cx="60.80" cy="215.77" r="2.75" fill="#8a8af0" stroke="#15153a" stroke-width="0.55"/>
<circle cx="60.80" cy="205.50" r="2.75" fill="#8a8af0" stroke="#15153a" stroke-width="0.55"/>
<circle cx="60.80" cy="202.29" r="2.75" fill="#8a8af0" stroke="#15153a" stroke-width="0.55"/>
<circle cx="63.80" cy="201.65" r="2.75" fill="#8a8af0" stroke="#15153a" stroke-width="0.55"/>
<line x1="52.30" y1="245.28" x2="69.30" y2="245.28" stroke="#111" stroke-width="0.8" />
<line x1="60.80" y1="226.03" x2="60.80" y2="264.53" stroke="#666" stroke-width="0.7" />
<line x1="57.60" y1="226.03" x2="64.00" y2="226.03" stroke="#444" stroke-width="0.7" />
<line x1="57.60" y1="264.53" x2="64.00" y2="264.53" stroke="#444" stroke-width="0.7" />
<circle cx="88.40" cy="285.07" r="2.75" fill="#ff0000" stroke="#15153a" stroke-width="0.55"/>
<circle cx="90.90" cy="283.78" r="2.75" fill="#ff0000" stroke="#15153a" stroke-width="0.55"/>
<circle cx="87.40" cy="282.50" r="2.75" fill="#ff0000" stroke="#15153a" stroke-width="0.55"/>
<circle cx="89.90" cy="281.22" r="2.75" fill="#ff0000" stroke="#15153a" stroke-width="0.55"/>
<circle cx="86.40" cy="279.93" r="2.75" fill="#ff0000" stroke="#15153a" stroke-width="0.55"/>
<circle cx="91.90" cy="279.29" r="2.75" fill="#ff0000" stroke="#15153a" stroke-width="0.55"/>
<circle cx="88.90" cy="278.65" r="2.75" fill="#ff0000" stroke="#15153a" stroke-width="0.55"/>
<circle cx="84.40" cy="278.01" r="2.75" fill="#ff0000" stroke="#15153a" stroke-width="0.55"/>
<circle cx="93.40" cy="277.37" r="2.75" fill="#ff0000" stroke="#15153a" stroke-width="0.55"/>
<circle cx="86.90" cy="276.73" r="2.75" fill="#ff0000" stroke="#15153a" stroke-width="0.55"/>
<circle cx="89.90" cy="276.08" r="2.75" fill="#ff0000" stroke="#15153a" stroke-width="0.55"/>
<circle cx="83.40" cy="275.44" r="2.75" fill="#ff0000" stroke="#15153a" stroke-width="0.55"/>
<circle cx="92.40" cy="274.80" r="2.75" fill="#ff0000" stroke="#15153a" stroke-width="0.55"/>
<circle cx="87.90" cy="274.16" r="2.75" fill="#ff0000" stroke="#15153a" stroke-width="0.55"/>
<circle cx="85.40" cy="273.52" r="2.75" fill="#ff0000" stroke="#15153a" stroke-width="0.55"/>
<circle cx="89.90" cy="272.23" r="2.75" fill="#ff0000" stroke="#15153a" stroke-width="0.55"/>
<circle cx="87.40" cy="270.95" r="2.75" fill="#ff0000" stroke="#15153a" stroke-width="0.55"/>
<circle cx="90.90" cy="269.67" r="2.75" fill="#ff0000" stroke="#15153a" stroke-width="0.55"/>
<circle cx="88.40" cy="268.38" r="2.75" fill="#ff0000" stroke="#15153a" stroke-width="0.55"/>
<circle cx="89.40" cy="265.82" r="2.75" fill="#ff0000" stroke="#15153a" stroke-width="0.55"/>
<circle cx="88.40" cy="262.61" r="2.75" fill="#ff0000" stroke="#15153a" stroke-width="0.55"/>
<line x1="79.90" y1="276.08" x2="96.90" y2="276.08" stroke="#111" stroke-width="0.8" />
<line x1="88.40" y1="270.63" x2="88.40" y2="281.54" stroke="#666" stroke-width="0.7" />
<line x1="85.20" y1="270.63" x2="91.60" y2="270.63" stroke="#444" stroke-width="0.7" />
<line x1="85.20" y1="281.54" x2="91.60" y2="281.54" stroke="#444" stroke-width="0.7" />
<text x="6.40" y="236.80" font-size="8.3" text-anchor="middle" fill="#000" stroke="#000" stroke-width="0.14" transform="rotate(-90 6.40 236.80)">Mean RRX intensity</text>
<text x="16.80" y="236.80" font-size="8.3" text-anchor="middle" fill="#000" stroke="#000" stroke-width="0.14" transform="rotate(-90 16.80 236.80)">per cell (a.u.)</text>
<text x="53.50" y="184.20" font-size="8.3" fill="#000" stroke="#000" stroke-width="0.14" text-anchor="start"><tspan font-style="italic">p</tspan> &lt; 0.0001</text>
<line x1="62.00" y1="190.50" x2="87.00" y2="190.50" stroke="#444" stroke-width="0.9" />
<line x1="136.50" y1="186.00" x2="136.50" y2="289.00" stroke="#333" stroke-width="0.9" />
<line x1="136.00" y1="288.50" x2="205.00" y2="288.50" stroke="#7c7c7c" stroke-width="0.9" />
<line x1="132.10" y1="287.50" x2="136.50" y2="287.50" stroke="#333" stroke-width="0.9" />
<text x="130.85" y="290.47" font-size="8.3" text-anchor="end" fill="#000" stroke="#000" stroke-width="0.14">0</text>
<line x1="132.10" y1="253.50" x2="136.50" y2="253.50" stroke="#333" stroke-width="0.9" />
<text x="130.85" y="256.72" font-size="8.3" text-anchor="end" fill="#000" stroke="#000" stroke-width="0.14">1</text>
<line x1="132.10" y1="220.50" x2="136.50" y2="220.50" stroke="#333" stroke-width="0.9" />
<text x="130.85" y="223.47" font-size="8.3" text-anchor="end" fill="#000" stroke="#000" stroke-width="0.14">2</text>
<line x1="132.10" y1="186.50" x2="136.50" y2="186.50" stroke="#333" stroke-width="0.9" />
<text x="130.85" y="189.97" font-size="8.3" text-anchor="end" fill="#000" stroke="#000" stroke-width="0.14">3</text>
<line x1="156.50" y1="288.50" x2="156.50" y2="292.50" stroke="#7c7c7c" stroke-width="0.9" />
<text x="160.30" y="300.15" font-size="8.3" text-anchor="end" fill="#000" stroke="#000" stroke-width="0.14" transform="rotate(-45 160.30 300.15)">HeLa</text>
<line x1="184.50" y1="288.50" x2="184.50" y2="292.50" stroke="#7c7c7c" stroke-width="0.9" />
<text x="187.60" y="300.15" font-size="8.3" text-anchor="end" fill="#000" stroke="#000" stroke-width="0.14" transform="rotate(-45 187.60 300.15)">HepG2</text>
<circle cx="157.00" cy="280.13" r="2.75" fill="#8a8af0" stroke="#15153a" stroke-width="0.55"/>
<circle cx="160.00" cy="279.12" r="2.75" fill="#8a8af0" stroke="#15153a" stroke-width="0.55"/>
<circle cx="155.00" cy="278.12" r="2.75" fill="#8a8af0" stroke="#15153a" stroke-width="0.55"/>
<circle cx="157.50" cy="276.78" r="2.75" fill="#8a8af0" stroke="#15153a" stroke-width="0.55"/>
<circle cx="160.00" cy="275.44" r="2.75" fill="#8a8af0" stroke="#15153a" stroke-width="0.55"/>
<circle cx="156.50" cy="274.10" r="2.75" fill="#8a8af0" stroke="#15153a" stroke-width="0.55"/>
<circle cx="159.00" cy="272.43" r="2.75" fill="#8a8af0" stroke="#15153a" stroke-width="0.55"/>
<circle cx="155.50" cy="271.42" r="2.75" fill="#8a8af0" stroke="#15153a" stroke-width="0.55"/>
<circle cx="161.00" cy="270.75" r="2.75" fill="#8a8af0" stroke="#15153a" stroke-width="0.55"/>
<circle cx="157.00" cy="269.07" r="2.75" fill="#8a8af0" stroke="#15153a" stroke-width="0.55"/>
<circle cx="159.50" cy="267.40" r="2.75" fill="#8a8af0" stroke="#15153a" stroke-width="0.55"/>
<circle cx="157.00" cy="265.73" r="2.75" fill="#8a8af0" stroke="#15153a" stroke-width="0.55"/>
<circle cx="154.00" cy="264.72" r="2.75" fill="#8a8af0" stroke="#15153a" stroke-width="0.55"/>
<circle cx="158.50" cy="263.38" r="2.75" fill="#8a8af0" stroke="#15153a" stroke-width="0.55"/>
<circle cx="156.00" cy="261.70" r="2.75" fill="#8a8af0" stroke="#15153a" stroke-width="0.55"/>
<circle cx="159.50" cy="260.70" r="2.75" fill="#8a8af0" stroke="#15153a" stroke-width="0.55"/>
<circle cx="157.00" cy="258.02" r="2.75" fill="#8a8af0" stroke="#15153a" stroke-width="0.55"/>
<circle cx="160.00" cy="257.35" r="2.75" fill="#8a8af0" stroke="#15153a" stroke-width="0.55"/>
<circle cx="155.50" cy="255.68" r="2.75" fill="#8a8af0" stroke="#15153a" stroke-width="0.55"/>
<circle cx="158.00" cy="254.00" r="2.75" fill="#8a8af0" stroke="#15153a" stroke-width="0.55"/>
<circle cx="157.00" cy="250.65" r="2.75" fill="#8a8af0" stroke="#15153a" stroke-width="0.55"/>
<circle cx="159.50" cy="248.97" r="2.75" fill="#8a8af0" stroke="#15153a" stroke-width="0.55"/>
<circle cx="157.00" cy="246.63" r="2.75" fill="#8a8af0" stroke="#15153a" stroke-width="0.55"/>
<circle cx="157.00" cy="243.28" r="2.75" fill="#8a8af0" stroke="#15153a" stroke-width="0.55"/>
<circle cx="157.00" cy="238.93" r="2.75" fill="#8a8af0" stroke="#15153a" stroke-width="0.55"/>
<circle cx="157.00" cy="233.90" r="2.75" fill="#8a8af0" stroke="#15153a" stroke-width="0.55"/>
<circle cx="157.00" cy="209.44" r="2.75" fill="#8a8af0" stroke="#15153a" stroke-width="0.55"/>
<circle cx="159.50" cy="208.11" r="2.75" fill="#8a8af0" stroke="#15153a" stroke-width="0.55"/>
<line x1="148.50" y1="257.35" x2="165.50" y2="257.35" stroke="#111" stroke-width="0.8" />
<line x1="157.00" y1="238.92" x2="157.00" y2="275.77" stroke="#666" stroke-width="0.7" />
<line x1="153.80" y1="238.92" x2="160.20" y2="238.92" stroke="#444" stroke-width="0.7" />
<line x1="153.80" y1="275.77" x2="160.20" y2="275.77" stroke="#444" stroke-width="0.7" />
<circle cx="184.30" cy="287.50" r="2.75" fill="#ff0000" stroke="#15153a" stroke-width="0.55"/>
<circle cx="187.30" cy="286.83" r="2.75" fill="#ff0000" stroke="#15153a" stroke-width="0.55"/>
<circle cx="181.80" cy="286.16" r="2.75" fill="#ff0000" stroke="#15153a" stroke-width="0.55"/>
<circle cx="179.30" cy="285.49" r="2.75" fill="#ff0000" stroke="#15153a" stroke-width="0.55"/>
<circle cx="189.30" cy="285.15" r="2.75" fill="#ff0000" stroke="#15153a" stroke-width="0.55"/>
<circle cx="185.30" cy="284.82" r="2.75" fill="#ff0000" stroke="#15153a" stroke-width="0.55"/>
<circle cx="183.30" cy="284.49" r="2.75" fill="#ff0000" stroke="#15153a" stroke-width="0.55"/>
<circle cx="187.30" cy="284.15" r="2.75" fill="#ff0000" stroke="#15153a" stroke-width="0.55"/>
<circle cx="180.80" cy="283.81" r="2.75" fill="#ff0000" stroke="#15153a" stroke-width="0.55"/>
<circle cx="189.30" cy="283.48" r="2.75" fill="#ff0000" stroke="#15153a" stroke-width="0.55"/>
<circle cx="184.80" cy="283.14" r="2.75" fill="#ff0000" stroke="#15153a" stroke-width="0.55"/>
<circle cx="182.30" cy="282.81" r="2.75" fill="#ff0000" stroke="#15153a" stroke-width="0.55"/>
<circle cx="179.30" cy="282.14" r="2.75" fill="#ff0000" stroke="#15153a" stroke-width="0.55"/>
<circle cx="187.30" cy="281.47" r="2.75" fill="#ff0000" stroke="#15153a" stroke-width="0.55"/>
<circle cx="183.80" cy="280.80" r="2.75" fill="#ff0000" stroke="#15153a" stroke-width="0.55"/>
<circle cx="181.30" cy="280.13" r="2.75" fill="#ff0000" stroke="#15153a" stroke-width="0.55"/>
<circle cx="185.80" cy="278.79" r="2.75" fill="#ff0000" stroke="#15153a" stroke-width="0.55"/>
<circle cx="183.30" cy="277.45" r="2.75" fill="#ff0000" stroke="#15153a" stroke-width="0.55"/>
<circle cx="184.80" cy="275.11" r="2.75" fill="#ff0000" stroke="#15153a" stroke-width="0.55"/>
<line x1="175.80" y1="283.48" x2="192.80" y2="283.48" stroke="#111" stroke-width="0.8" />
<line x1="184.30" y1="280.46" x2="184.30" y2="286.50" stroke="#666" stroke-width="0.7" />
<line x1="181.10" y1="280.46" x2="187.50" y2="280.46" stroke="#444" stroke-width="0.7" />
<line x1="181.10" y1="286.50" x2="187.50" y2="286.50" stroke="#444" stroke-width="0.7" />
<text x="110.40" y="237.40" font-size="8.3" text-anchor="middle" fill="#000" stroke="#000" stroke-width="0.14" transform="rotate(-90 110.40 237.40)">Integrated RRX intensity</text>
<text x="120.80" y="237.40" font-size="8.3" text-anchor="middle" fill="#000" stroke="#000" stroke-width="0.14" transform="rotate(-90 120.80 237.40)">per cell (×10<tspan font-size="5.15" dy="-3.15">5</tspan><tspan dy="3.15"> a.u.)</tspan></text>
<text x="149.50" y="184.20" font-size="8.3" fill="#000" stroke="#000" stroke-width="0.14" text-anchor="start"><tspan font-style="italic">p</tspan> &lt; 0.0001</text>
<line x1="158.00" y1="190.50" x2="183.00" y2="190.50" stroke="#444" stroke-width="0.9" />
<line x1="246.50" y1="187.00" x2="246.50" y2="290.00" stroke="#7c7c7c" stroke-width="1.0" />
<line x1="246.00" y1="289.50" x2="314.50" y2="289.50" stroke="#7c7c7c" stroke-width="1.0" />
<line x1="242.10" y1="289.50" x2="246.50" y2="289.50" stroke="#7c7c7c" stroke-width="1.0" />
<text x="241.20" y="292.22" font-size="8.3" text-anchor="end" fill="#000" stroke="#000" stroke-width="0.14">0</text>
<line x1="242.10" y1="263.50" x2="246.50" y2="263.50" stroke="#7c7c7c" stroke-width="1.0" />
<text x="241.20" y="266.72" font-size="8.3" text-anchor="end" fill="#000" stroke="#000" stroke-width="0.14">50</text>
<line x1="242.10" y1="238.50" x2="246.50" y2="238.50" stroke="#7c7c7c" stroke-width="1.0" />
<text x="241.20" y="241.22" font-size="8.3" text-anchor="end" fill="#000" stroke="#000" stroke-width="0.14">100</text>
<line x1="242.10" y1="212.50" x2="246.50" y2="212.50" stroke="#7c7c7c" stroke-width="1.0" />
<text x="241.20" y="215.97" font-size="8.3" text-anchor="end" fill="#000" stroke="#000" stroke-width="0.14">150</text>
<line x1="242.10" y1="187.50" x2="246.50" y2="187.50" stroke="#7c7c7c" stroke-width="1.0" />
<text x="241.20" y="190.47" font-size="8.3" text-anchor="end" fill="#000" stroke="#000" stroke-width="0.14">200</text>
<line x1="266.50" y1="289.50" x2="266.50" y2="293.50" stroke="#7c7c7c" stroke-width="1.0" />
<text x="269.80" y="300.65" font-size="8.3" text-anchor="end" fill="#000" stroke="#000" stroke-width="0.14" transform="rotate(-45 269.80 300.65)">MDA-MB-231</text>
<line x1="293.50" y1="289.50" x2="293.50" y2="293.50" stroke="#7c7c7c" stroke-width="1.0" />
<text x="297.00" y="300.65" font-size="8.3" text-anchor="end" fill="#000" stroke="#000" stroke-width="0.14" transform="rotate(-45 297.00 300.65)">HeLa</text>
<circle cx="266.50" cy="284.16" r="2.75" fill="#8a8af0" stroke="#15153a" stroke-width="0.55"/>
<circle cx="266.50" cy="265.85" r="2.75" fill="#8a8af0" stroke="#15153a" stroke-width="0.55"/>
<circle cx="268.50" cy="263.81" r="2.75" fill="#8a8af0" stroke="#15153a" stroke-width="0.55"/>
<circle cx="266.00" cy="262.29" r="2.75" fill="#8a8af0" stroke="#15153a" stroke-width="0.55"/>
<circle cx="268.00" cy="260.25" r="2.75" fill="#8a8af0" stroke="#15153a" stroke-width="0.55"/>
<circle cx="265.50" cy="258.73" r="2.75" fill="#8a8af0" stroke="#15153a" stroke-width="0.55"/>
<circle cx="267.50" cy="256.69" r="2.75" fill="#8a8af0" stroke="#15153a" stroke-width="0.55"/>
<circle cx="264.50" cy="255.67" r="2.75" fill="#8a8af0" stroke="#15153a" stroke-width="0.55"/>
<circle cx="269.50" cy="254.66" r="2.75" fill="#8a8af0" stroke="#15153a" stroke-width="0.55"/>
<circle cx="266.50" cy="253.64" r="2.75" fill="#8a8af0" stroke="#15153a" stroke-width="0.55"/>
<circle cx="263.00" cy="253.13" r="2.75" fill="#8a8af0" stroke="#15153a" stroke-width="0.55"/>
<circle cx="271.00" cy="252.62" r="2.75" fill="#8a8af0" stroke="#15153a" stroke-width="0.55"/>
<circle cx="268.50" cy="252.11" r="2.75" fill="#8a8af0" stroke="#15153a" stroke-width="0.55"/>
<circle cx="265.00" cy="251.60" r="2.75" fill="#8a8af0" stroke="#15153a" stroke-width="0.55"/>
<circle cx="262.00" cy="251.09" r="2.75" fill="#8a8af0" stroke="#15153a" stroke-width="0.55"/>
<circle cx="270.50" cy="250.08" r="2.75" fill="#8a8af0" stroke="#15153a" stroke-width="0.55"/>
<circle cx="266.50" cy="248.55" r="2.75" fill="#8a8af0" stroke="#15153a" stroke-width="0.55"/>
<circle cx="269.00" cy="247.02" r="2.75" fill="#8a8af0" stroke="#15153a" stroke-width="0.55"/>
<circle cx="266.50" cy="245.50" r="2.75" fill="#8a8af0" stroke="#15153a" stroke-width="0.55"/>
<circle cx="266.50" cy="241.43" r="2.75" fill="#8a8af0" stroke="#15153a" stroke-width="0.55"/>
<circle cx="266.50" cy="235.32" r="2.75" fill="#8a8af0" stroke="#15153a" stroke-width="0.55"/>
<circle cx="266.50" cy="230.24" r="2.75" fill="#8a8af0" stroke="#15153a" stroke-width="0.55"/>
<circle cx="266.50" cy="225.66" r="2.75" fill="#8a8af0" stroke="#15153a" stroke-width="0.55"/>
<circle cx="266.50" cy="220.06" r="2.75" fill="#8a8af0" stroke="#15153a" stroke-width="0.55"/>
<circle cx="266.50" cy="197.17" r="2.75" fill="#8a8af0" stroke="#15153a" stroke-width="0.55"/>
<line x1="258.00" y1="248.55" x2="275.00" y2="248.55" stroke="#111" stroke-width="0.8" />
<line x1="266.50" y1="231.25" x2="266.50" y2="265.85" stroke="#666" stroke-width="0.7" />
<line x1="263.30" y1="231.25" x2="269.70" y2="231.25" stroke="#444" stroke-width="0.7" />
<line x1="263.30" y1="265.85" x2="269.70" y2="265.85" stroke="#444" stroke-width="0.7" />
<circle cx="293.70" cy="288.23" r="2.75" fill="#ff0000" stroke="#15153a" stroke-width="0.55"/>
<circle cx="296.70" cy="287.21" r="2.75" fill="#ff0000" stroke="#15153a" stroke-width="0.55"/>
<circle cx="291.70" cy="286.20" r="2.75" fill="#ff0000" stroke="#15153a" stroke-width="0.55"/>
<circle cx="294.70" cy="285.18" r="2.75" fill="#ff0000" stroke="#15153a" stroke-width="0.55"/>
<circle cx="298.20" cy="284.67" r="2.75" fill="#ff0000" stroke="#15153a" stroke-width="0.55"/>
<circle cx="289.70" cy="284.16" r="2.75" fill="#ff0000" stroke="#15153a" stroke-width="0.55"/>
<circle cx="292.20" cy="283.65" r="2.75" fill="#ff0000" stroke="#15153a" stroke-width="0.55"/>
<circle cx="296.20" cy="283.14" r="2.75" fill="#ff0000" stroke="#15153a" stroke-width="0.55"/>
<circle cx="298.70" cy="282.64" r="2.75" fill="#ff0000" stroke="#15153a" stroke-width="0.55"/>
<circle cx="288.70" cy="282.13" r="2.75" fill="#ff0000" stroke="#15153a" stroke-width="0.55"/>
<circle cx="293.70" cy="281.62" r="2.75" fill="#ff0000" stroke="#15153a" stroke-width="0.55"/>
<circle cx="291.20" cy="280.60" r="2.75" fill="#ff0000" stroke="#15153a" stroke-width="0.55"/>
<circle cx="295.70" cy="279.58" r="2.75" fill="#ff0000" stroke="#15153a" stroke-width="0.55"/>
<circle cx="289.20" cy="278.57" r="2.75" fill="#ff0000" stroke="#15153a" stroke-width="0.55"/>
<line x1="285.20" y1="283.65" x2="302.20" y2="283.65" stroke="#111" stroke-width="0.8" />
<line x1="293.70" y1="281.11" x2="293.70" y2="286.20" stroke="#666" stroke-width="0.7" />
<line x1="290.50" y1="281.11" x2="296.90" y2="281.11" stroke="#444" stroke-width="0.7" />
<line x1="290.50" y1="286.20" x2="296.90" y2="286.20" stroke="#444" stroke-width="0.7" />
<text x="212.40" y="238.20" font-size="8.3" text-anchor="middle" fill="#000" stroke="#000" stroke-width="0.14" transform="rotate(-90 212.40 238.20)">Mean RRX intensity</text>
<text x="222.80" y="238.20" font-size="8.3" text-anchor="middle" fill="#000" stroke="#000" stroke-width="0.14" transform="rotate(-90 222.80 238.20)">per cell (a.u.)</text>
<text x="259.00" y="184.80" font-size="8.3" fill="#000" stroke="#000" stroke-width="0.14" text-anchor="start"><tspan font-style="italic">p</tspan> &lt; 0.0001</text>
<line x1="268.00" y1="190.50" x2="292.50" y2="190.50" stroke="#444" stroke-width="0.9" />
<line x1="351.50" y1="187.00" x2="351.50" y2="290.00" stroke="#7c7c7c" stroke-width="1.0" />
<line x1="351.00" y1="289.50" x2="421.25" y2="289.50" stroke="#7c7c7c" stroke-width="1.0" />
<line x1="347.10" y1="289.50" x2="351.50" y2="289.50" stroke="#7c7c7c" stroke-width="1.0" />
<text x="346.60" y="292.22" font-size="8.3" text-anchor="end" fill="#000" stroke="#000" stroke-width="0.14">0</text>
<line x1="347.10" y1="254.50" x2="351.50" y2="254.50" stroke="#7c7c7c" stroke-width="1.0" />
<text x="346.60" y="257.97" font-size="8.3" text-anchor="end" fill="#000" stroke="#000" stroke-width="0.14">5</text>
<line x1="347.10" y1="221.50" x2="351.50" y2="221.50" stroke="#7c7c7c" stroke-width="1.0" />
<text x="346.60" y="224.22" font-size="8.3" text-anchor="end" fill="#000" stroke="#000" stroke-width="0.14">10</text>
<line x1="347.10" y1="187.50" x2="351.50" y2="187.50" stroke="#7c7c7c" stroke-width="1.0" />
<text x="346.60" y="190.47" font-size="8.3" text-anchor="end" fill="#000" stroke="#000" stroke-width="0.14">15</text>
<line x1="372.50" y1="289.50" x2="372.50" y2="293.50" stroke="#7c7c7c" stroke-width="1.0" />
<text x="376.30" y="300.65" font-size="8.3" text-anchor="end" fill="#000" stroke="#000" stroke-width="0.14" transform="rotate(-45 376.30 300.65)">MDA-MB-231</text>
<line x1="400.50" y1="289.50" x2="400.50" y2="293.50" stroke="#7c7c7c" stroke-width="1.0" />
<text x="403.60" y="300.65" font-size="8.3" text-anchor="end" fill="#000" stroke="#000" stroke-width="0.14" transform="rotate(-45 403.60 300.65)">HeLa</text>
<circle cx="373.00" cy="284.50" r="2.75" fill="#8a8af0" stroke="#15153a" stroke-width="0.55"/>
<circle cx="373.00" cy="271.61" r="2.75" fill="#8a8af0" stroke="#15153a" stroke-width="0.55"/>
<circle cx="373.50" cy="268.90" r="2.75" fill="#8a8af0" stroke="#15153a" stroke-width="0.55"/>
<circle cx="373.00" cy="265.51" r="2.75" fill="#8a8af0" stroke="#15153a" stroke-width="0.55"/>
<circle cx="375.00" cy="263.47" r="2.75" fill="#8a8af0" stroke="#15153a" stroke-width="0.55"/>
<circle cx="372.50" cy="262.12" r="2.75" fill="#8a8af0" stroke="#15153a" stroke-width="0.55"/>
<circle cx="375.50" cy="260.76" r="2.75" fill="#8a8af0" stroke="#15153a" stroke-width="0.55"/>
<circle cx="373.00" cy="259.40" r="2.75" fill="#8a8af0" stroke="#15153a" stroke-width="0.55"/>
<circle cx="370.50" cy="258.05" r="2.75" fill="#8a8af0" stroke="#15153a" stroke-width="0.55"/>
<circle cx="373.50" cy="256.69" r="2.75" fill="#8a8af0" stroke="#15153a" stroke-width="0.55"/>
<circle cx="371.00" cy="255.33" r="2.75" fill="#8a8af0" stroke="#15153a" stroke-width="0.55"/>
<circle cx="374.00" cy="253.98" r="2.75" fill="#8a8af0" stroke="#15153a" stroke-width="0.55"/>
<circle cx="371.50" cy="252.62" r="2.75" fill="#8a8af0" stroke="#15153a" stroke-width="0.55"/>
<circle cx="373.00" cy="249.91" r="2.75" fill="#8a8af0" stroke="#15153a" stroke-width="0.55"/>
<circle cx="373.00" cy="246.51" r="2.75" fill="#8a8af0" stroke="#15153a" stroke-width="0.55"/>
<circle cx="373.50" cy="243.80" r="2.75" fill="#8a8af0" stroke="#15153a" stroke-width="0.55"/>
<circle cx="371.00" cy="242.44" r="2.75" fill="#8a8af0" stroke="#15153a" stroke-width="0.55"/>
<circle cx="373.00" cy="237.02" r="2.75" fill="#8a8af0" stroke="#15153a" stroke-width="0.55"/>
<circle cx="376.00" cy="236.34" r="2.75" fill="#8a8af0" stroke="#15153a" stroke-width="0.55"/>
<circle cx="370.50" cy="235.66" r="2.75" fill="#8a8af0" stroke="#15153a" stroke-width="0.55"/>
<circle cx="373.00" cy="230.91" r="2.75" fill="#8a8af0" stroke="#15153a" stroke-width="0.55"/>
<circle cx="373.00" cy="226.16" r="2.75" fill="#8a8af0" stroke="#15153a" stroke-width="0.55"/>
<circle cx="375.50" cy="224.81" r="2.75" fill="#8a8af0" stroke="#15153a" stroke-width="0.55"/>
<circle cx="373.00" cy="215.99" r="2.75" fill="#8a8af0" stroke="#15153a" stroke-width="0.55"/>
<circle cx="373.00" cy="209.88" r="2.75" fill="#8a8af0" stroke="#15153a" stroke-width="0.55"/>
<circle cx="373.00" cy="203.78" r="2.75" fill="#8a8af0" stroke="#15153a" stroke-width="0.55"/>
<line x1="364.50" y1="245.84" x2="381.50" y2="245.84" stroke="#111" stroke-width="0.8" />
<line x1="373.00" y1="226.16" x2="373.00" y2="265.51" stroke="#666" stroke-width="0.7" />
<line x1="369.80" y1="226.16" x2="376.20" y2="226.16" stroke="#444" stroke-width="0.7" />
<line x1="369.80" y1="265.51" x2="376.20" y2="265.51" stroke="#444" stroke-width="0.7" />
<circle cx="400.30" cy="287.55" r="2.75" fill="#ff0000" stroke="#15153a" stroke-width="0.55"/>
<circle cx="403.30" cy="286.54" r="2.75" fill="#ff0000" stroke="#15153a" stroke-width="0.55"/>
<circle cx="397.80" cy="285.86" r="2.75" fill="#ff0000" stroke="#15153a" stroke-width="0.55"/>
<circle cx="400.80" cy="285.18" r="2.75" fill="#ff0000" stroke="#15153a" stroke-width="0.55"/>
<circle cx="403.80" cy="283.82" r="2.75" fill="#ff0000" stroke="#15153a" stroke-width="0.55"/>
<circle cx="398.80" cy="283.14" r="2.75" fill="#ff0000" stroke="#15153a" stroke-width="0.55"/>
<circle cx="395.80" cy="282.47" r="2.75" fill="#ff0000" stroke="#15153a" stroke-width="0.55"/>
<circle cx="401.30" cy="281.79" r="2.75" fill="#ff0000" stroke="#15153a" stroke-width="0.55"/>
<circle cx="404.30" cy="281.11" r="2.75" fill="#ff0000" stroke="#15153a" stroke-width="0.55"/>
<circle cx="398.30" cy="280.43" r="2.75" fill="#ff0000" stroke="#15153a" stroke-width="0.55"/>
<circle cx="395.80" cy="279.75" r="2.75" fill="#ff0000" stroke="#15153a" stroke-width="0.55"/>
<circle cx="400.80" cy="279.07" r="2.75" fill="#ff0000" stroke="#15153a" stroke-width="0.55"/>
<circle cx="403.80" cy="278.40" r="2.75" fill="#ff0000" stroke="#15153a" stroke-width="0.55"/>
<circle cx="397.80" cy="277.72" r="2.75" fill="#ff0000" stroke="#15153a" stroke-width="0.55"/>
<circle cx="401.80" cy="277.04" r="2.75" fill="#ff0000" stroke="#15153a" stroke-width="0.55"/>
<circle cx="395.80" cy="276.36" r="2.75" fill="#ff0000" stroke="#15153a" stroke-width="0.55"/>
<circle cx="404.30" cy="275.68" r="2.75" fill="#ff0000" stroke="#15153a" stroke-width="0.55"/>
<circle cx="399.80" cy="275.00" r="2.75" fill="#ff0000" stroke="#15153a" stroke-width="0.55"/>
<circle cx="402.30" cy="273.65" r="2.75" fill="#ff0000" stroke="#15153a" stroke-width="0.55"/>
<circle cx="399.30" cy="272.29" r="2.75" fill="#ff0000" stroke="#15153a" stroke-width="0.55"/>
<circle cx="401.80" cy="270.94" r="2.75" fill="#ff0000" stroke="#15153a" stroke-width="0.55"/>
<circle cx="399.80" cy="268.90" r="2.75" fill="#ff0000" stroke="#15153a" stroke-width="0.55"/>
<circle cx="401.80" cy="266.87" r="2.75" fill="#ff0000" stroke="#15153a" stroke-width="0.55"/>
<circle cx="399.30" cy="265.51" r="2.75" fill="#ff0000" stroke="#15153a" stroke-width="0.55"/>
<line x1="391.80" y1="278.40" x2="408.80" y2="278.40" stroke="#111" stroke-width="0.8" />
<line x1="400.30" y1="271.95" x2="400.30" y2="284.84" stroke="#666" stroke-width="0.7" />
<line x1="397.10" y1="271.95" x2="403.50" y2="271.95" stroke="#444" stroke-width="0.7" />
<line x1="397.10" y1="284.84" x2="403.50" y2="284.84" stroke="#444" stroke-width="0.7" />
<text x="320.80" y="238.00" font-size="8.3" text-anchor="middle" fill="#000" stroke="#000" stroke-width="0.14" transform="rotate(-90 320.80 238.00)">Integrated RRX intensity</text>
<text x="331.20" y="238.00" font-size="8.3" text-anchor="middle" fill="#000" stroke="#000" stroke-width="0.14" transform="rotate(-90 331.20 238.00)">per cell (×10<tspan font-size="5.15" dy="-3.15">4</tspan><tspan dy="3.15"> a.u.)</tspan></text>
<text x="365.20" y="184.80" font-size="8.3" fill="#000" stroke="#000" stroke-width="0.14" text-anchor="start"><tspan font-style="italic">p</tspan> &lt; 0.0001</text>
<line x1="374.25" y1="190.50" x2="399.25" y2="190.50" stroke="#444" stroke-width="0.9" />
<line x1="466.50" y1="187.00" x2="466.50" y2="289.00" stroke="#7c7c7c" stroke-width="1.0" />
<line x1="466.00" y1="288.50" x2="534.50" y2="288.50" stroke="#7c7c7c" stroke-width="1.0" />
<line x1="462.10" y1="284.50" x2="466.50" y2="284.50" stroke="#7c7c7c" stroke-width="1.0" />
<text x="461.35" y="287.97" font-size="8.3" text-anchor="end" fill="#000" stroke="#000" stroke-width="0.14">0</text>
<line x1="462.10" y1="265.50" x2="466.50" y2="265.50" stroke="#7c7c7c" stroke-width="1.0" />
<text x="461.35" y="268.22" font-size="8.3" text-anchor="end" fill="#000" stroke="#000" stroke-width="0.14">50</text>
<line x1="462.10" y1="245.50" x2="466.50" y2="245.50" stroke="#7c7c7c" stroke-width="1.0" />
<text x="461.35" y="248.72" font-size="8.3" text-anchor="end" fill="#000" stroke="#000" stroke-width="0.14">100</text>
<line x1="462.10" y1="226.50" x2="466.50" y2="226.50" stroke="#7c7c7c" stroke-width="1.0" />
<text x="461.35" y="229.22" font-size="8.3" text-anchor="end" fill="#000" stroke="#000" stroke-width="0.14">150</text>
<line x1="462.10" y1="206.50" x2="466.50" y2="206.50" stroke="#7c7c7c" stroke-width="1.0" />
<text x="461.35" y="209.72" font-size="8.3" text-anchor="end" fill="#000" stroke="#000" stroke-width="0.14">200</text>
<line x1="462.10" y1="187.50" x2="466.50" y2="187.50" stroke="#7c7c7c" stroke-width="1.0" />
<text x="461.35" y="190.47" font-size="8.3" text-anchor="end" fill="#000" stroke="#000" stroke-width="0.14">250</text>
<line x1="481.50" y1="288.50" x2="481.50" y2="292.50" stroke="#7c7c7c" stroke-width="1.0" />
<text x="485.00" y="300.15" font-size="8.3" text-anchor="end" fill="#000" stroke="#000" stroke-width="0.14" transform="rotate(-45 485.00 300.15)">HepG2</text>
<line x1="500.50" y1="288.50" x2="500.50" y2="292.50" stroke="#7c7c7c" stroke-width="1.0" />
<text x="504.10" y="300.15" font-size="8.3" text-anchor="end" fill="#000" stroke="#000" stroke-width="0.14" transform="rotate(-45 504.10 300.15)">HeLa</text>
<line x1="519.50" y1="288.50" x2="519.50" y2="292.50" stroke="#7c7c7c" stroke-width="1.0" />
<text x="523.30" y="300.15" font-size="8.3" text-anchor="end" fill="#000" stroke="#000" stroke-width="0.14" transform="rotate(-45 523.30 300.15)">A549</text>
<circle cx="481.70" cy="271.74" r="2.75" fill="#8a8af0" stroke="#15153a" stroke-width="0.55"/>
<circle cx="482.20" cy="269.59" r="2.75" fill="#8a8af0" stroke="#15153a" stroke-width="0.55"/>
<circle cx="481.70" cy="267.44" r="2.75" fill="#8a8af0" stroke="#15153a" stroke-width="0.55"/>
<circle cx="482.20" cy="265.28" r="2.75" fill="#8a8af0" stroke="#15153a" stroke-width="0.55"/>
<circle cx="481.20" cy="263.16" r="2.75" fill="#8a8af0" stroke="#15153a" stroke-width="0.55"/>
<circle cx="483.70" cy="263.13" r="2.75" fill="#8a8af0" stroke="#15153a" stroke-width="0.55"/>
<circle cx="479.70" cy="261.60" r="2.75" fill="#8a8af0" stroke="#15153a" stroke-width="0.55"/>
<circle cx="482.20" cy="260.98" r="2.75" fill="#8a8af0" stroke="#15153a" stroke-width="0.55"/>
<circle cx="480.70" cy="260.04" r="2.75" fill="#8a8af0" stroke="#15153a" stroke-width="0.55"/>
<circle cx="482.70" cy="258.83" r="2.75" fill="#8a8af0" stroke="#15153a" stroke-width="0.55"/>
<circle cx="481.70" cy="256.68" r="2.75" fill="#8a8af0" stroke="#15153a" stroke-width="0.55"/>
<circle cx="482.20" cy="254.53" r="2.75" fill="#8a8af0" stroke="#15153a" stroke-width="0.55"/>
<circle cx="481.70" cy="252.37" r="2.75" fill="#8a8af0" stroke="#15153a" stroke-width="0.55"/>
<circle cx="482.20" cy="250.22" r="2.75" fill="#8a8af0" stroke="#15153a" stroke-width="0.55"/>
<circle cx="479.70" cy="249.90" r="2.75" fill="#8a8af0" stroke="#15153a" stroke-width="0.55"/>
<circle cx="481.70" cy="248.07" r="2.75" fill="#8a8af0" stroke="#15153a" stroke-width="0.55"/>
<circle cx="482.20" cy="245.92" r="2.75" fill="#8a8af0" stroke="#15153a" stroke-width="0.55"/>
<circle cx="481.70" cy="243.77" r="2.75" fill="#8a8af0" stroke="#15153a" stroke-width="0.55"/>
<circle cx="482.20" cy="241.62" r="2.75" fill="#8a8af0" stroke="#15153a" stroke-width="0.55"/>
<circle cx="481.70" cy="239.46" r="2.75" fill="#8a8af0" stroke="#15153a" stroke-width="0.55"/>
<circle cx="482.20" cy="237.31" r="2.75" fill="#8a8af0" stroke="#15153a" stroke-width="0.55"/>
<circle cx="481.70" cy="235.16" r="2.75" fill="#8a8af0" stroke="#15153a" stroke-width="0.55"/>
<circle cx="482.20" cy="233.01" r="2.75" fill="#8a8af0" stroke="#15153a" stroke-width="0.55"/>
<circle cx="481.70" cy="230.86" r="2.75" fill="#8a8af0" stroke="#15153a" stroke-width="0.55"/>
<circle cx="482.20" cy="228.71" r="2.75" fill="#8a8af0" stroke="#15153a" stroke-width="0.55"/>
<circle cx="481.70" cy="226.55" r="2.75" fill="#8a8af0" stroke="#15153a" stroke-width="0.55"/>
<circle cx="482.20" cy="224.40" r="2.75" fill="#8a8af0" stroke="#15153a" stroke-width="0.55"/>
<circle cx="481.70" cy="222.25" r="2.75" fill="#8a8af0" stroke="#15153a" stroke-width="0.55"/>
<circle cx="482.20" cy="220.10" r="2.75" fill="#8a8af0" stroke="#15153a" stroke-width="0.55"/>
<circle cx="481.70" cy="217.95" r="2.75" fill="#8a8af0" stroke="#15153a" stroke-width="0.55"/>
<circle cx="482.20" cy="215.80" r="2.75" fill="#8a8af0" stroke="#15153a" stroke-width="0.55"/>
<circle cx="481.70" cy="213.64" r="2.75" fill="#8a8af0" stroke="#15153a" stroke-width="0.55"/>
<circle cx="482.20" cy="211.49" r="2.75" fill="#8a8af0" stroke="#15153a" stroke-width="0.55"/>
<circle cx="481.70" cy="209.34" r="2.75" fill="#8a8af0" stroke="#15153a" stroke-width="0.55"/>
<line x1="475.50" y1="248.73" x2="487.90" y2="248.73" stroke="#111" stroke-width="0.8" />
<line x1="481.70" y1="231.18" x2="481.70" y2="266.28" stroke="#666" stroke-width="0.7" />
<line x1="478.50" y1="231.18" x2="484.90" y2="231.18" stroke="#444" stroke-width="0.7" />
<line x1="478.50" y1="266.28" x2="484.90" y2="266.28" stroke="#444" stroke-width="0.7" />
<circle cx="500.80" cy="280.32" r="2.75" fill="#8f8f8f" stroke="#222" stroke-width="0.55"/>
<circle cx="502.80" cy="279.15" r="2.75" fill="#8f8f8f" stroke="#222" stroke-width="0.55"/>
<circle cx="500.80" cy="277.98" r="2.75" fill="#8f8f8f" stroke="#222" stroke-width="0.55"/>
<circle cx="498.30" cy="277.20" r="2.75" fill="#8f8f8f" stroke="#222" stroke-width="0.55"/>
<circle cx="502.80" cy="276.42" r="2.75" fill="#8f8f8f" stroke="#222" stroke-width="0.55"/>
<circle cx="500.30" cy="275.64" r="2.75" fill="#8f8f8f" stroke="#222" stroke-width="0.55"/>
<circle cx="498.30" cy="274.86" r="2.75" fill="#8f8f8f" stroke="#222" stroke-width="0.55"/>
<circle cx="502.30" cy="274.08" r="2.75" fill="#8f8f8f" stroke="#222" stroke-width="0.55"/>
<circle cx="499.80" cy="273.30" r="2.75" fill="#8f8f8f" stroke="#222" stroke-width="0.55"/>
<circle cx="498.30" cy="272.91" r="2.75" fill="#8f8f8f" stroke="#222" stroke-width="0.55"/>
<circle cx="503.30" cy="272.52" r="2.75" fill="#8f8f8f" stroke="#222" stroke-width="0.55"/>
<circle cx="501.30" cy="272.13" r="2.75" fill="#8f8f8f" stroke="#222" stroke-width="0.55"/>
<circle cx="499.80" cy="271.74" r="2.75" fill="#8f8f8f" stroke="#222" stroke-width="0.55"/>
<circle cx="498.30" cy="271.35" r="2.75" fill="#8f8f8f" stroke="#222" stroke-width="0.55"/>
<circle cx="502.80" cy="270.96" r="2.75" fill="#8f8f8f" stroke="#222" stroke-width="0.55"/>
<circle cx="501.30" cy="270.57" r="2.75" fill="#8f8f8f" stroke="#222" stroke-width="0.55"/>
<circle cx="499.80" cy="270.18" r="2.75" fill="#8f8f8f" stroke="#222" stroke-width="0.55"/>
<circle cx="498.30" cy="269.79" r="2.75" fill="#8f8f8f" stroke="#222" stroke-width="0.55"/>
<circle cx="503.30" cy="269.40" r="2.75" fill="#8f8f8f" stroke="#222" stroke-width="0.55"/>
<circle cx="501.30" cy="268.62" r="2.75" fill="#8f8f8f" stroke="#222" stroke-width="0.55"/>
<circle cx="499.30" cy="267.84" r="2.75" fill="#8f8f8f" stroke="#222" stroke-width="0.55"/>
<circle cx="503.30" cy="267.06" r="2.75" fill="#8f8f8f" stroke="#222" stroke-width="0.55"/>
<circle cx="500.80" cy="266.28" r="2.75" fill="#8f8f8f" stroke="#222" stroke-width="0.55"/>
<circle cx="498.30" cy="265.50" r="2.75" fill="#8f8f8f" stroke="#222" stroke-width="0.55"/>
<circle cx="502.80" cy="264.72" r="2.75" fill="#8f8f8f" stroke="#222" stroke-width="0.55"/>
<circle cx="500.80" cy="255.75" r="2.75" fill="#8f8f8f" stroke="#222" stroke-width="0.55"/>
<line x1="494.60" y1="271.35" x2="507.00" y2="271.35" stroke="#111" stroke-width="0.8" />
<line x1="500.80" y1="266.28" x2="500.80" y2="276.42" stroke="#666" stroke-width="0.7" />
<line x1="497.60" y1="266.28" x2="504.00" y2="266.28" stroke="#444" stroke-width="0.7" />
<line x1="497.60" y1="276.42" x2="504.00" y2="276.42" stroke="#444" stroke-width="0.7" />
<circle cx="520.00" cy="285.78" r="2.75" fill="#ff0000" stroke="#15153a" stroke-width="0.55"/>
<circle cx="522.50" cy="285.39" r="2.75" fill="#ff0000" stroke="#15153a" stroke-width="0.55"/>
<circle cx="517.50" cy="285.00" r="2.75" fill="#ff0000" stroke="#15153a" stroke-width="0.55"/>
<circle cx="521.00" cy="285.00" r="2.75" fill="#ff0000" stroke="#15153a" stroke-width="0.55"/>
<circle cx="519.00" cy="284.61" r="2.75" fill="#ff0000" stroke="#15153a" stroke-width="0.55"/>
<circle cx="520.00" cy="284.61" r="2.75" fill="#ff0000" stroke="#15153a" stroke-width="0.55"/>
<circle cx="523.00" cy="284.22" r="2.75" fill="#ff0000" stroke="#15153a" stroke-width="0.55"/>
<circle cx="522.00" cy="284.22" r="2.75" fill="#ff0000" stroke="#15153a" stroke-width="0.55"/>
<circle cx="517.00" cy="283.83" r="2.75" fill="#ff0000" stroke="#15153a" stroke-width="0.55"/>
<circle cx="521.00" cy="283.83" r="2.75" fill="#ff0000" stroke="#15153a" stroke-width="0.55"/>
<circle cx="519.50" cy="283.44" r="2.75" fill="#ff0000" stroke="#15153a" stroke-width="0.55"/>
<circle cx="522.50" cy="283.05" r="2.75" fill="#ff0000" stroke="#15153a" stroke-width="0.55"/>
<circle cx="518.00" cy="282.66" r="2.75" fill="#ff0000" stroke="#15153a" stroke-width="0.55"/>
<circle cx="521.00" cy="281.88" r="2.75" fill="#ff0000" stroke="#15153a" stroke-width="0.55"/>
<circle cx="523.00" cy="281.10" r="2.75" fill="#ff0000" stroke="#15153a" stroke-width="0.55"/>
<circle cx="519.50" cy="279.93" r="2.75" fill="#ff0000" stroke="#15153a" stroke-width="0.55"/>
<line x1="513.80" y1="283.83" x2="526.20" y2="283.83" stroke="#111" stroke-width="0.8" />
<line x1="520.00" y1="282.27" x2="520.00" y2="285.39" stroke="#666" stroke-width="0.7" />
<line x1="516.80" y1="282.27" x2="523.20" y2="282.27" stroke="#444" stroke-width="0.7" />
<line x1="516.80" y1="285.39" x2="523.20" y2="285.39" stroke="#444" stroke-width="0.7" />
<text x="432.40" y="238.00" font-size="8.3" text-anchor="middle" fill="#000" stroke="#000" stroke-width="0.14" transform="rotate(-90 432.40 238.00)">Mean RRX intensity</text>
<text x="442.80" y="238.00" font-size="8.3" text-anchor="middle" fill="#000" stroke="#000" stroke-width="0.14" transform="rotate(-90 442.80 238.00)">per cell (a.u.)</text>
<text x="479.75" y="177.00" font-size="8.3" fill="#000" stroke="#000" stroke-width="0.14" text-anchor="start"><tspan font-style="italic">p</tspan> &lt; 0.0001</text>
<line x1="482.00" y1="182.50" x2="518.00" y2="182.50" stroke="#888" stroke-width="0.9" />
<text x="473.50" y="193.25" font-size="8.3" fill="#000" stroke="#000" stroke-width="0.14" text-anchor="start"><tspan font-style="italic">p</tspan> &lt; 0.0001</text>
<line x1="482.50" y1="198.50" x2="498.00" y2="198.50" stroke="#777" stroke-width="0.9" />
<text x="489.00" y="241.75" font-size="8.3" fill="#000" stroke="#000" stroke-width="0.14" text-anchor="start"><tspan font-style="italic">p</tspan> &lt; 0.0001</text>
<line x1="501.75" y1="246.50" x2="516.75" y2="246.50" stroke="#777" stroke-width="0.9" />
<line x1="586.50" y1="187.00" x2="586.50" y2="289.00" stroke="#7c7c7c" stroke-width="1.0" />
<line x1="586.00" y1="288.50" x2="654.00" y2="288.50" stroke="#7c7c7c" stroke-width="1.0" />
<line x1="582.10" y1="287.50" x2="586.50" y2="287.50" stroke="#7c7c7c" stroke-width="1.0" />
<text x="581.20" y="290.47" font-size="8.3" text-anchor="end" fill="#000" stroke="#000" stroke-width="0.14">0</text>
<line x1="582.10" y1="254.50" x2="586.50" y2="254.50" stroke="#7c7c7c" stroke-width="1.0" />
<text x="581.20" y="257.22" font-size="8.3" text-anchor="end" fill="#000" stroke="#000" stroke-width="0.14">1</text>
<line x1="582.10" y1="221.50" x2="586.50" y2="221.50" stroke="#7c7c7c" stroke-width="1.0" />
<text x="581.20" y="224.22" font-size="8.3" text-anchor="end" fill="#000" stroke="#000" stroke-width="0.14">2</text>
<line x1="582.10" y1="187.50" x2="586.50" y2="187.50" stroke="#7c7c7c" stroke-width="1.0" />
<text x="581.20" y="190.97" font-size="8.3" text-anchor="end" fill="#000" stroke="#000" stroke-width="0.14">3</text>
<line x1="600.50" y1="288.50" x2="600.50" y2="292.50" stroke="#7c7c7c" stroke-width="1.0" />
<text x="604.00" y="300.15" font-size="8.3" text-anchor="end" fill="#000" stroke="#000" stroke-width="0.14" transform="rotate(-45 604.00 300.15)">HepG2</text>
<line x1="619.50" y1="288.50" x2="619.50" y2="292.50" stroke="#7c7c7c" stroke-width="1.0" />
<text x="623.40" y="300.15" font-size="8.3" text-anchor="end" fill="#000" stroke="#000" stroke-width="0.14" transform="rotate(-45 623.40 300.15)">HeLa</text>
<line x1="639.50" y1="288.50" x2="639.50" y2="292.50" stroke="#7c7c7c" stroke-width="1.0" />
<text x="642.80" y="300.15" font-size="8.3" text-anchor="end" fill="#000" stroke="#000" stroke-width="0.14" transform="rotate(-45 642.80 300.15)">A549</text>
<circle cx="600.70" cy="274.90" r="2.75" fill="#8a8af0" stroke="#15153a" stroke-width="0.55"/>
<circle cx="602.20" cy="273.28" r="2.75" fill="#8a8af0" stroke="#15153a" stroke-width="0.55"/>
<circle cx="600.70" cy="271.67" r="2.75" fill="#8a8af0" stroke="#15153a" stroke-width="0.55"/>
<circle cx="602.70" cy="270.92" r="2.75" fill="#8a8af0" stroke="#15153a" stroke-width="0.55"/>
<circle cx="599.20" cy="270.05" r="2.75" fill="#8a8af0" stroke="#15153a" stroke-width="0.55"/>
<circle cx="600.70" cy="268.44" r="2.75" fill="#8a8af0" stroke="#15153a" stroke-width="0.55"/>
<circle cx="602.70" cy="267.60" r="2.75" fill="#8a8af0" stroke="#15153a" stroke-width="0.55"/>
<circle cx="599.20" cy="266.82" r="2.75" fill="#8a8af0" stroke="#15153a" stroke-width="0.55"/>
<circle cx="600.70" cy="265.21" r="2.75" fill="#8a8af0" stroke="#15153a" stroke-width="0.55"/>
<circle cx="602.70" cy="264.28" r="2.75" fill="#8a8af0" stroke="#15153a" stroke-width="0.55"/>
<circle cx="599.20" cy="263.59" r="2.75" fill="#8a8af0" stroke="#15153a" stroke-width="0.55"/>
<circle cx="600.70" cy="261.98" r="2.75" fill="#8a8af0" stroke="#15153a" stroke-width="0.55"/>
<circle cx="602.20" cy="260.36" r="2.75" fill="#8a8af0" stroke="#15153a" stroke-width="0.55"/>
<circle cx="600.70" cy="258.75" r="2.75" fill="#8a8af0" stroke="#15153a" stroke-width="0.55"/>
<circle cx="602.20" cy="257.13" r="2.75" fill="#8a8af0" stroke="#15153a" stroke-width="0.55"/>
<circle cx="600.70" cy="255.52" r="2.75" fill="#8a8af0" stroke="#15153a" stroke-width="0.55"/>
<circle cx="602.20" cy="253.90" r="2.75" fill="#8a8af0" stroke="#15153a" stroke-width="0.55"/>
<circle cx="600.70" cy="252.29" r="2.75" fill="#8a8af0" stroke="#15153a" stroke-width="0.55"/>
<circle cx="602.20" cy="250.67" r="2.75" fill="#8a8af0" stroke="#15153a" stroke-width="0.55"/>
<circle cx="600.70" cy="249.06" r="2.75" fill="#8a8af0" stroke="#15153a" stroke-width="0.55"/>
<circle cx="602.20" cy="247.44" r="2.75" fill="#8a8af0" stroke="#15153a" stroke-width="0.55"/>
<circle cx="600.70" cy="245.83" r="2.75" fill="#8a8af0" stroke="#15153a" stroke-width="0.55"/>
<circle cx="602.20" cy="244.21" r="2.75" fill="#8a8af0" stroke="#15153a" stroke-width="0.55"/>
<circle cx="600.70" cy="242.60" r="2.75" fill="#8a8af0" stroke="#15153a" stroke-width="0.55"/>
<circle cx="602.20" cy="240.98" r="2.75" fill="#8a8af0" stroke="#15153a" stroke-width="0.55"/>
<circle cx="600.70" cy="239.37" r="2.75" fill="#8a8af0" stroke="#15153a" stroke-width="0.55"/>
<circle cx="602.20" cy="237.75" r="2.75" fill="#8a8af0" stroke="#15153a" stroke-width="0.55"/>
<circle cx="600.70" cy="233.11" r="2.75" fill="#8a8af0" stroke="#15153a" stroke-width="0.55"/>
<circle cx="600.70" cy="219.51" r="2.75" fill="#8a8af0" stroke="#15153a" stroke-width="0.55"/>
<line x1="594.50" y1="257.32" x2="606.90" y2="257.32" stroke="#111" stroke-width="0.8" />
<line x1="600.70" y1="244.72" x2="600.70" y2="269.92" stroke="#666" stroke-width="0.7" />
<line x1="597.50" y1="244.72" x2="603.90" y2="244.72" stroke="#444" stroke-width="0.7" />
<line x1="597.50" y1="269.92" x2="603.90" y2="269.92" stroke="#444" stroke-width="0.7" />
<circle cx="620.10" cy="281.20" r="2.75" fill="#8f8f8f" stroke="#222" stroke-width="0.55"/>
<circle cx="622.10" cy="280.20" r="2.75" fill="#8f8f8f" stroke="#222" stroke-width="0.55"/>
<circle cx="620.10" cy="278.88" r="2.75" fill="#8f8f8f" stroke="#222" stroke-width="0.55"/>
<circle cx="622.10" cy="277.55" r="2.75" fill="#8f8f8f" stroke="#222" stroke-width="0.55"/>
<circle cx="620.10" cy="276.56" r="2.75" fill="#8f8f8f" stroke="#222" stroke-width="0.55"/>
<circle cx="622.10" cy="275.23" r="2.75" fill="#8f8f8f" stroke="#222" stroke-width="0.55"/>
<circle cx="620.10" cy="274.23" r="2.75" fill="#8f8f8f" stroke="#222" stroke-width="0.55"/>
<circle cx="622.10" cy="272.91" r="2.75" fill="#8f8f8f" stroke="#222" stroke-width="0.55"/>
<circle cx="620.10" cy="271.91" r="2.75" fill="#8f8f8f" stroke="#222" stroke-width="0.55"/>
<circle cx="618.10" cy="270.92" r="2.75" fill="#8f8f8f" stroke="#222" stroke-width="0.55"/>
<circle cx="621.60" cy="270.25" r="2.75" fill="#8f8f8f" stroke="#222" stroke-width="0.55"/>
<circle cx="619.60" cy="269.26" r="2.75" fill="#8f8f8f" stroke="#222" stroke-width="0.55"/>
<circle cx="622.10" cy="268.26" r="2.75" fill="#8f8f8f" stroke="#222" stroke-width="0.55"/>
<circle cx="620.10" cy="266.94" r="2.75" fill="#8f8f8f" stroke="#222" stroke-width="0.55"/>
<circle cx="622.10" cy="265.61" r="2.75" fill="#8f8f8f" stroke="#222" stroke-width="0.55"/>
<circle cx="620.10" cy="264.28" r="2.75" fill="#8f8f8f" stroke="#222" stroke-width="0.55"/>
<circle cx="621.60" cy="262.62" r="2.75" fill="#8f8f8f" stroke="#222" stroke-width="0.55"/>
<circle cx="620.10" cy="260.97" r="2.75" fill="#8f8f8f" stroke="#222" stroke-width="0.55"/>
<circle cx="621.60" cy="259.31" r="2.75" fill="#8f8f8f" stroke="#222" stroke-width="0.55"/>
<circle cx="620.10" cy="256.99" r="2.75" fill="#8f8f8f" stroke="#222" stroke-width="0.55"/>
<circle cx="620.10" cy="254.33" r="2.75" fill="#8f8f8f" stroke="#222" stroke-width="0.55"/>
<circle cx="620.10" cy="251.02" r="2.75" fill="#8f8f8f" stroke="#222" stroke-width="0.55"/>
<circle cx="620.10" cy="247.70" r="2.75" fill="#8f8f8f" stroke="#222" stroke-width="0.55"/>
<circle cx="620.10" cy="243.72" r="2.75" fill="#8f8f8f" stroke="#222" stroke-width="0.55"/>
<line x1="613.90" y1="269.59" x2="626.30" y2="269.59" stroke="#111" stroke-width="0.8" />
<line x1="620.10" y1="259.64" x2="620.10" y2="279.54" stroke="#666" stroke-width="0.7" />
<line x1="616.90" y1="259.64" x2="623.30" y2="259.64" stroke="#444" stroke-width="0.7" />
<line x1="616.90" y1="279.54" x2="623.30" y2="279.54" stroke="#444" stroke-width="0.7" />
<circle cx="639.50" cy="287.50" r="2.75" fill="#ff0000" stroke="#15153a" stroke-width="0.55"/>
<circle cx="642.00" cy="287.17" r="2.75" fill="#ff0000" stroke="#15153a" stroke-width="0.55"/>
<circle cx="637.00" cy="286.84" r="2.75" fill="#ff0000" stroke="#15153a" stroke-width="0.55"/>
<circle cx="640.50" cy="286.84" r="2.75" fill="#ff0000" stroke="#15153a" stroke-width="0.55"/>
<circle cx="638.50" cy="286.50" r="2.75" fill="#ff0000" stroke="#15153a" stroke-width="0.55"/>
<circle cx="639.50" cy="286.50" r="2.75" fill="#ff0000" stroke="#15153a" stroke-width="0.55"/>
<circle cx="641.50" cy="286.17" r="2.75" fill="#ff0000" stroke="#15153a" stroke-width="0.55"/>
<circle cx="637.50" cy="285.84" r="2.75" fill="#ff0000" stroke="#15153a" stroke-width="0.55"/>
<circle cx="642.50" cy="285.84" r="2.75" fill="#ff0000" stroke="#15153a" stroke-width="0.55"/>
<circle cx="640.50" cy="285.51" r="2.75" fill="#ff0000" stroke="#15153a" stroke-width="0.55"/>
<circle cx="639.00" cy="285.18" r="2.75" fill="#ff0000" stroke="#15153a" stroke-width="0.55"/>
<circle cx="636.50" cy="284.85" r="2.75" fill="#ff0000" stroke="#15153a" stroke-width="0.55"/>
<circle cx="639.50" cy="277.88" r="2.75" fill="#ff0000" stroke="#15153a" stroke-width="0.55"/>
<line x1="633.30" y1="286.17" x2="645.70" y2="286.17" stroke="#111" stroke-width="0.8" />
<line x1="639.50" y1="283.85" x2="639.50" y2="288.50" stroke="#666" stroke-width="0.7" />
<line x1="636.30" y1="283.85" x2="642.70" y2="283.85" stroke="#444" stroke-width="0.7" />
<line x1="636.30" y1="288.50" x2="642.70" y2="288.50" stroke="#444" stroke-width="0.7" />
<text x="559.30" y="237.60" font-size="8.3" text-anchor="middle" fill="#000" stroke="#000" stroke-width="0.14" transform="rotate(-90 559.30 237.60)">Integrated RRX intensity</text>
<text x="569.70" y="237.60" font-size="8.3" text-anchor="middle" fill="#000" stroke="#000" stroke-width="0.14" transform="rotate(-90 569.70 237.60)">per cell (×10<tspan font-size="5.15" dy="-3.15">5</tspan><tspan dy="3.15"> a.u.)</tspan></text>
<text x="601.25" y="187.00" font-size="8.3" fill="#000" stroke="#000" stroke-width="0.14" text-anchor="start"><tspan font-style="italic">p</tspan> &lt; 0.0001</text>
<line x1="602.75" y1="193.50" x2="639.75" y2="193.50" stroke="#888" stroke-width="0.9" />
<text x="591.75" y="206.25" font-size="8.3" fill="#000" stroke="#000" stroke-width="0.14" text-anchor="start"><tspan font-style="italic">p</tspan> = 0.0128</text>
<line x1="602.75" y1="210.50" x2="622.00" y2="210.50" stroke="#222" stroke-width="0.9" />
<text x="610.50" y="228.25" font-size="8.3" fill="#000" stroke="#000" stroke-width="0.14" text-anchor="start"><tspan font-style="italic">p</tspan> &lt; 0.0001</text>
<line x1="621.50" y1="233.50" x2="641.00" y2="233.50" stroke="#888" stroke-width="0.9" />
<line x1="272.50" y1="453.00" x2="272.50" y2="568.00" stroke="#333" stroke-width="0.9" />
<line x1="272.00" y1="567.50" x2="348.20" y2="567.50" stroke="#333" stroke-width="0.9" />
<line x1="267.50" y1="567.50" x2="272.50" y2="567.50" stroke="#333" stroke-width="0.9" />
<text x="266.60" y="570.89" font-size="9.2" text-anchor="end" fill="#000" stroke="#000" stroke-width="0.14">0</text>
<line x1="267.50" y1="544.50" x2="272.50" y2="544.50" stroke="#333" stroke-width="0.9" />
<text x="266.60" y="548.04" font-size="9.2" text-anchor="end" fill="#000" stroke="#000" stroke-width="0.14">50</text>
<line x1="267.50" y1="521.50" x2="272.50" y2="521.50" stroke="#333" stroke-width="0.9" />
<text x="266.60" y="525.29" font-size="9.2" text-anchor="end" fill="#000" stroke="#000" stroke-width="0.14">100</text>
<line x1="267.50" y1="499.50" x2="272.50" y2="499.50" stroke="#333" stroke-width="0.9" />
<text x="266.60" y="502.54" font-size="9.2" text-anchor="end" fill="#000" stroke="#000" stroke-width="0.14">150</text>
<line x1="267.50" y1="476.50" x2="272.50" y2="476.50" stroke="#333" stroke-width="0.9" />
<text x="266.60" y="479.54" font-size="9.2" text-anchor="end" fill="#000" stroke="#000" stroke-width="0.14">200</text>
<line x1="267.50" y1="453.50" x2="272.50" y2="453.50" stroke="#333" stroke-width="0.9" />
<text x="266.60" y="456.89" font-size="9.2" text-anchor="end" fill="#000" stroke="#000" stroke-width="0.14">250</text>
<line x1="294.50" y1="567.50" x2="294.50" y2="571.90" stroke="#333" stroke-width="0.9" />
<text x="298.60" y="581.00" font-size="9.2" text-anchor="end" fill="#000" stroke="#000" stroke-width="0.14" transform="rotate(-45 298.60 581.00)">HepG2</text>
<line x1="325.50" y1="567.50" x2="325.50" y2="571.90" stroke="#333" stroke-width="0.9" />
<text x="329.00" y="581.00" font-size="9.2" text-anchor="end" fill="#000" stroke="#000" stroke-width="0.14" transform="rotate(-45 329.00 581.00)">A549</text>
<circle cx="295.00" cy="551.18" r="3.0" fill="#e183f2" stroke="#2a1030" stroke-width="0.55"/>
<circle cx="299.50" cy="550.73" r="3.0" fill="#e183f2" stroke="#2a1030" stroke-width="0.55"/>
<circle cx="291.00" cy="549.36" r="3.0" fill="#e183f2" stroke="#2a1030" stroke-width="0.55"/>
<circle cx="297.00" cy="547.99" r="3.0" fill="#e183f2" stroke="#2a1030" stroke-width="0.55"/>
<circle cx="293.50" cy="546.62" r="3.0" fill="#e183f2" stroke="#2a1030" stroke-width="0.55"/>
<circle cx="300.00" cy="545.26" r="3.0" fill="#e183f2" stroke="#2a1030" stroke-width="0.55"/>
<circle cx="290.00" cy="543.89" r="3.0" fill="#e183f2" stroke="#2a1030" stroke-width="0.55"/>
<circle cx="295.00" cy="542.52" r="3.0" fill="#e183f2" stroke="#2a1030" stroke-width="0.55"/>
<circle cx="299.00" cy="541.15" r="3.0" fill="#e183f2" stroke="#2a1030" stroke-width="0.55"/>
<circle cx="291.50" cy="539.78" r="3.0" fill="#e183f2" stroke="#2a1030" stroke-width="0.55"/>
<circle cx="295.50" cy="538.42" r="3.0" fill="#e183f2" stroke="#2a1030" stroke-width="0.55"/>
<circle cx="300.00" cy="537.05" r="3.0" fill="#e183f2" stroke="#2a1030" stroke-width="0.55"/>
<circle cx="290.00" cy="535.68" r="3.0" fill="#e183f2" stroke="#2a1030" stroke-width="0.55"/>
<circle cx="294.00" cy="534.31" r="3.0" fill="#e183f2" stroke="#2a1030" stroke-width="0.55"/>
<circle cx="298.50" cy="532.94" r="3.0" fill="#e183f2" stroke="#2a1030" stroke-width="0.55"/>
<circle cx="290.50" cy="531.58" r="3.0" fill="#e183f2" stroke="#2a1030" stroke-width="0.55"/>
<circle cx="295.00" cy="530.21" r="3.0" fill="#e183f2" stroke="#2a1030" stroke-width="0.55"/>
<circle cx="300.00" cy="528.84" r="3.0" fill="#e183f2" stroke="#2a1030" stroke-width="0.55"/>
<circle cx="291.50" cy="527.47" r="3.0" fill="#e183f2" stroke="#2a1030" stroke-width="0.55"/>
<circle cx="296.50" cy="526.56" r="3.0" fill="#e183f2" stroke="#2a1030" stroke-width="0.55"/>
<circle cx="300.00" cy="525.19" r="3.0" fill="#e183f2" stroke="#2a1030" stroke-width="0.55"/>
<circle cx="294.00" cy="522.91" r="3.0" fill="#e183f2" stroke="#2a1030" stroke-width="0.55"/>
<circle cx="297.00" cy="519.72" r="3.0" fill="#e183f2" stroke="#2a1030" stroke-width="0.55"/>
<circle cx="295.00" cy="505.13" r="3.0" fill="#e183f2" stroke="#2a1030" stroke-width="0.55"/>
<circle cx="298.00" cy="501.94" r="3.0" fill="#e183f2" stroke="#2a1030" stroke-width="0.55"/>
<circle cx="293.50" cy="501.02" r="3.0" fill="#e183f2" stroke="#2a1030" stroke-width="0.55"/>
<circle cx="290.00" cy="500.57" r="3.0" fill="#e183f2" stroke="#2a1030" stroke-width="0.55"/>
<circle cx="295.00" cy="490.99" r="3.0" fill="#e183f2" stroke="#2a1030" stroke-width="0.55"/>
<circle cx="296.50" cy="486.89" r="3.0" fill="#e183f2" stroke="#2a1030" stroke-width="0.55"/>
<circle cx="292.00" cy="485.98" r="3.0" fill="#e183f2" stroke="#2a1030" stroke-width="0.55"/>
<circle cx="295.00" cy="461.81" r="3.0" fill="#e183f2" stroke="#2a1030" stroke-width="0.55"/>
<line x1="285.50" y1="523.37" x2="304.50" y2="523.37" stroke="#111" stroke-width="0.8" />
<line x1="295.00" y1="501.02" x2="295.00" y2="545.71" stroke="#666" stroke-width="0.7" />
<line x1="291.80" y1="501.02" x2="298.20" y2="501.02" stroke="#444" stroke-width="0.7" />
<line x1="291.80" y1="545.71" x2="298.20" y2="545.71" stroke="#444" stroke-width="0.7" />
<circle cx="325.40" cy="564.86" r="3.0" fill="#4646f5" stroke="#101050" stroke-width="0.55"/>
<circle cx="329.40" cy="563.95" r="3.0" fill="#4646f5" stroke="#101050" stroke-width="0.55"/>
<circle cx="321.90" cy="563.04" r="3.0" fill="#4646f5" stroke="#101050" stroke-width="0.55"/>
<circle cx="326.90" cy="562.13" r="3.0" fill="#4646f5" stroke="#101050" stroke-width="0.55"/>
<circle cx="330.90" cy="561.22" r="3.0" fill="#4646f5" stroke="#101050" stroke-width="0.55"/>
<circle cx="323.90" cy="560.76" r="3.0" fill="#4646f5" stroke="#101050" stroke-width="0.55"/>
<circle cx="319.90" cy="559.85" r="3.0" fill="#4646f5" stroke="#101050" stroke-width="0.55"/>
<circle cx="328.40" cy="559.39" r="3.0" fill="#4646f5" stroke="#101050" stroke-width="0.55"/>
<circle cx="325.90" cy="558.94" r="3.0" fill="#4646f5" stroke="#101050" stroke-width="0.55"/>
<circle cx="322.40" cy="558.48" r="3.0" fill="#4646f5" stroke="#101050" stroke-width="0.55"/>
<circle cx="330.90" cy="558.02" r="3.0" fill="#4646f5" stroke="#101050" stroke-width="0.55"/>
<circle cx="319.90" cy="557.57" r="3.0" fill="#4646f5" stroke="#101050" stroke-width="0.55"/>
<circle cx="324.40" cy="557.11" r="3.0" fill="#4646f5" stroke="#101050" stroke-width="0.55"/>
<circle cx="327.90" cy="556.66" r="3.0" fill="#4646f5" stroke="#101050" stroke-width="0.55"/>
<circle cx="321.90" cy="556.20" r="3.0" fill="#4646f5" stroke="#101050" stroke-width="0.55"/>
<circle cx="330.40" cy="555.74" r="3.0" fill="#4646f5" stroke="#101050" stroke-width="0.55"/>
<circle cx="325.90" cy="555.29" r="3.0" fill="#4646f5" stroke="#101050" stroke-width="0.55"/>
<circle cx="319.90" cy="554.83" r="3.0" fill="#4646f5" stroke="#101050" stroke-width="0.55"/>
<circle cx="323.40" cy="554.38" r="3.0" fill="#4646f5" stroke="#101050" stroke-width="0.55"/>
<circle cx="328.40" cy="553.46" r="3.0" fill="#4646f5" stroke="#101050" stroke-width="0.55"/>
<circle cx="325.40" cy="552.55" r="3.0" fill="#4646f5" stroke="#101050" stroke-width="0.55"/>
<circle cx="321.40" cy="551.64" r="3.0" fill="#4646f5" stroke="#101050" stroke-width="0.55"/>
<circle cx="330.90" cy="550.73" r="3.0" fill="#4646f5" stroke="#101050" stroke-width="0.55"/>
<circle cx="327.40" cy="549.36" r="3.0" fill="#4646f5" stroke="#101050" stroke-width="0.55"/>
<circle cx="323.40" cy="547.99" r="3.0" fill="#4646f5" stroke="#101050" stroke-width="0.55"/>
<circle cx="325.40" cy="542.98" r="3.0" fill="#4646f5" stroke="#101050" stroke-width="0.55"/>
<circle cx="325.40" cy="524.74" r="3.0" fill="#4646f5" stroke="#101050" stroke-width="0.55"/>
<line x1="315.90" y1="555.29" x2="334.90" y2="555.29" stroke="#111" stroke-width="0.8" />
<line x1="325.40" y1="547.08" x2="325.40" y2="563.50" stroke="#666" stroke-width="0.7" />
<line x1="322.20" y1="547.08" x2="328.60" y2="547.08" stroke="#444" stroke-width="0.7" />
<line x1="322.20" y1="563.50" x2="328.60" y2="563.50" stroke="#444" stroke-width="0.7" />
<text x="234.00" y="510.50" font-size="9.2" text-anchor="middle" fill="#000" stroke="#000" stroke-width="0.14" transform="rotate(-90 234.00 510.50)">Mean RRX intensity</text>
<text x="246.30" y="510.50" font-size="9.2" text-anchor="middle" fill="#000" stroke="#000" stroke-width="0.14" transform="rotate(-90 246.30 510.50)">per cell (a.u.)</text>
<text x="286.25" y="447.20" font-size="9.2" fill="#000" stroke="#000" stroke-width="0.14" text-anchor="start"><tspan font-style="italic">p</tspan> &lt; 0.0001</text>
<line x1="295.00" y1="455.50" x2="326.20" y2="455.50" stroke="#333" stroke-width="0.9" />
<line x1="609.50" y1="453.00" x2="609.50" y2="568.00" stroke="#7c7c7c" stroke-width="0.95" />
<line x1="609.00" y1="567.50" x2="685.00" y2="567.50" stroke="#333" stroke-width="0.95" />
<line x1="604.50" y1="560.50" x2="609.50" y2="560.50" stroke="#7c7c7c" stroke-width="0.95" />
<text x="603.40" y="564.04" font-size="9.2" text-anchor="end" fill="#000" stroke="#000" stroke-width="0.14">0</text>
<line x1="604.50" y1="524.50" x2="609.50" y2="524.50" stroke="#7c7c7c" stroke-width="0.95" />
<text x="603.40" y="528.29" font-size="9.2" text-anchor="end" fill="#000" stroke="#000" stroke-width="0.14">50</text>
<line x1="604.50" y1="489.50" x2="609.50" y2="489.50" stroke="#7c7c7c" stroke-width="0.95" />
<text x="603.40" y="492.79" font-size="9.2" text-anchor="end" fill="#000" stroke="#000" stroke-width="0.14">100</text>
<line x1="604.50" y1="453.50" x2="609.50" y2="453.50" stroke="#7c7c7c" stroke-width="0.95" />
<text x="603.40" y="456.54" font-size="9.2" text-anchor="end" fill="#000" stroke="#000" stroke-width="0.14">150</text>
<line x1="631.50" y1="567.50" x2="631.50" y2="571.90" stroke="#333" stroke-width="0.95" />
<text x="635.20" y="581.00" font-size="9.2" text-anchor="end" fill="#000" stroke="#000" stroke-width="0.14" transform="rotate(-45 635.20 581.00)">HeLa</text>
<line x1="661.50" y1="567.50" x2="661.50" y2="571.90" stroke="#333" stroke-width="0.95" />
<text x="665.80" y="581.00" font-size="9.2" text-anchor="end" fill="#000" stroke="#000" stroke-width="0.14" transform="rotate(-45 665.80 581.00)">HepG2</text>
<circle cx="631.60" cy="557.17" r="3.0" fill="#e183f2" stroke="#2a1030" stroke-width="0.55"/>
<circle cx="631.60" cy="549.28" r="3.0" fill="#e183f2" stroke="#2a1030" stroke-width="0.55"/>
<circle cx="631.60" cy="544.27" r="3.0" fill="#e183f2" stroke="#2a1030" stroke-width="0.55"/>
<circle cx="631.60" cy="539.25" r="3.0" fill="#e183f2" stroke="#2a1030" stroke-width="0.55"/>
<circle cx="636.10" cy="537.82" r="3.0" fill="#e183f2" stroke="#2a1030" stroke-width="0.55"/>
<circle cx="627.60" cy="536.38" r="3.0" fill="#e183f2" stroke="#2a1030" stroke-width="0.55"/>
<circle cx="632.60" cy="534.95" r="3.0" fill="#e183f2" stroke="#2a1030" stroke-width="0.55"/>
<circle cx="638.10" cy="533.52" r="3.0" fill="#e183f2" stroke="#2a1030" stroke-width="0.55"/>
<circle cx="625.60" cy="532.08" r="3.0" fill="#e183f2" stroke="#2a1030" stroke-width="0.55"/>
<circle cx="630.60" cy="530.65" r="3.0" fill="#e183f2" stroke="#2a1030" stroke-width="0.55"/>
<circle cx="635.10" cy="529.22" r="3.0" fill="#e183f2" stroke="#2a1030" stroke-width="0.55"/>
<circle cx="627.10" cy="527.78" r="3.0" fill="#e183f2" stroke="#2a1030" stroke-width="0.55"/>
<circle cx="631.60" cy="526.35" r="3.0" fill="#e183f2" stroke="#2a1030" stroke-width="0.55"/>
<circle cx="637.10" cy="524.92" r="3.0" fill="#e183f2" stroke="#2a1030" stroke-width="0.55"/>
<circle cx="625.10" cy="523.48" r="3.0" fill="#e183f2" stroke="#2a1030" stroke-width="0.55"/>
<circle cx="629.60" cy="522.05" r="3.0" fill="#e183f2" stroke="#2a1030" stroke-width="0.55"/>
<circle cx="634.10" cy="520.62" r="3.0" fill="#e183f2" stroke="#2a1030" stroke-width="0.55"/>
<circle cx="626.10" cy="519.18" r="3.0" fill="#e183f2" stroke="#2a1030" stroke-width="0.55"/>
<circle cx="638.10" cy="517.75" r="3.0" fill="#e183f2" stroke="#2a1030" stroke-width="0.55"/>
<circle cx="631.60" cy="516.32" r="3.0" fill="#e183f2" stroke="#2a1030" stroke-width="0.55"/>
<circle cx="627.10" cy="514.88" r="3.0" fill="#e183f2" stroke="#2a1030" stroke-width="0.55"/>
<circle cx="635.60" cy="513.45" r="3.0" fill="#e183f2" stroke="#2a1030" stroke-width="0.55"/>
<circle cx="630.60" cy="512.73" r="3.0" fill="#e183f2" stroke="#2a1030" stroke-width="0.55"/>
<circle cx="625.10" cy="511.30" r="3.0" fill="#e183f2" stroke="#2a1030" stroke-width="0.55"/>
<circle cx="631.60" cy="507.72" r="3.0" fill="#e183f2" stroke="#2a1030" stroke-width="0.55"/>
<circle cx="633.60" cy="503.42" r="3.0" fill="#e183f2" stroke="#2a1030" stroke-width="0.55"/>
<circle cx="628.60" cy="502.70" r="3.0" fill="#e183f2" stroke="#2a1030" stroke-width="0.55"/>
<circle cx="638.10" cy="501.98" r="3.0" fill="#e183f2" stroke="#2a1030" stroke-width="0.55"/>
<circle cx="631.60" cy="494.82" r="3.0" fill="#e183f2" stroke="#2a1030" stroke-width="0.55"/>
<circle cx="636.10" cy="493.38" r="3.0" fill="#e183f2" stroke="#2a1030" stroke-width="0.55"/>
<circle cx="631.60" cy="481.20" r="3.0" fill="#e183f2" stroke="#2a1030" stroke-width="0.55"/>
<circle cx="636.60" cy="480.48" r="3.0" fill="#e183f2" stroke="#2a1030" stroke-width="0.55"/>
<circle cx="631.60" cy="471.17" r="3.0" fill="#e183f2" stroke="#2a1030" stroke-width="0.55"/>
<circle cx="636.10" cy="469.02" r="3.0" fill="#e183f2" stroke="#2a1030" stroke-width="0.55"/>
<circle cx="631.60" cy="463.28" r="3.0" fill="#e183f2" stroke="#2a1030" stroke-width="0.55"/>
<line x1="622.10" y1="514.17" x2="641.10" y2="514.17" stroke="#111" stroke-width="0.8" />
<line x1="631.60" y1="490.52" x2="631.60" y2="537.82" stroke="#666" stroke-width="0.7" />
<line x1="628.40" y1="490.52" x2="634.80" y2="490.52" stroke="#444" stroke-width="0.7" />
<line x1="628.40" y1="537.82" x2="634.80" y2="537.82" stroke="#444" stroke-width="0.7" />
<circle cx="662.20" cy="563.62" r="3.0" fill="#4646f5" stroke="#101050" stroke-width="0.55"/>
<circle cx="666.70" cy="562.18" r="3.0" fill="#4646f5" stroke="#101050" stroke-width="0.55"/>
<circle cx="658.70" cy="560.75" r="3.0" fill="#4646f5" stroke="#101050" stroke-width="0.55"/>
<circle cx="663.20" cy="559.32" r="3.0" fill="#4646f5" stroke="#101050" stroke-width="0.55"/>
<circle cx="667.70" cy="557.88" r="3.0" fill="#4646f5" stroke="#101050" stroke-width="0.55"/>
<circle cx="659.70" cy="556.45" r="3.0" fill="#4646f5" stroke="#101050" stroke-width="0.55"/>
<circle cx="664.20" cy="555.02" r="3.0" fill="#4646f5" stroke="#101050" stroke-width="0.55"/>
<circle cx="656.20" cy="553.58" r="3.0" fill="#4646f5" stroke="#101050" stroke-width="0.55"/>
<circle cx="660.70" cy="552.15" r="3.0" fill="#4646f5" stroke="#101050" stroke-width="0.55"/>
<circle cx="665.20" cy="550.72" r="3.0" fill="#4646f5" stroke="#101050" stroke-width="0.55"/>
<circle cx="657.20" cy="549.28" r="3.0" fill="#4646f5" stroke="#101050" stroke-width="0.55"/>
<circle cx="661.70" cy="547.85" r="3.0" fill="#4646f5" stroke="#101050" stroke-width="0.55"/>
<circle cx="666.20" cy="546.42" r="3.0" fill="#4646f5" stroke="#101050" stroke-width="0.55"/>
<circle cx="658.20" cy="544.98" r="3.0" fill="#4646f5" stroke="#101050" stroke-width="0.55"/>
<circle cx="662.70" cy="543.55" r="3.0" fill="#4646f5" stroke="#101050" stroke-width="0.55"/>
<circle cx="667.20" cy="542.12" r="3.0" fill="#4646f5" stroke="#101050" stroke-width="0.55"/>
<circle cx="659.20" cy="540.68" r="3.0" fill="#4646f5" stroke="#101050" stroke-width="0.55"/>
<circle cx="663.70" cy="539.25" r="3.0" fill="#4646f5" stroke="#101050" stroke-width="0.55"/>
<circle cx="668.20" cy="537.82" r="3.0" fill="#4646f5" stroke="#101050" stroke-width="0.55"/>
<circle cx="660.20" cy="536.38" r="3.0" fill="#4646f5" stroke="#101050" stroke-width="0.55"/>
<circle cx="664.70" cy="534.95" r="3.0" fill="#4646f5" stroke="#101050" stroke-width="0.55"/>
<circle cx="656.70" cy="533.52" r="3.0" fill="#4646f5" stroke="#101050" stroke-width="0.55"/>
<circle cx="661.20" cy="532.08" r="3.0" fill="#4646f5" stroke="#101050" stroke-width="0.55"/>
<circle cx="665.70" cy="530.65" r="3.0" fill="#4646f5" stroke="#101050" stroke-width="0.55"/>
<circle cx="657.70" cy="529.22" r="3.0" fill="#4646f5" stroke="#101050" stroke-width="0.55"/>
<circle cx="662.20" cy="524.20" r="3.0" fill="#4646f5" stroke="#101050" stroke-width="0.55"/>
<circle cx="665.70" cy="521.33" r="3.0" fill="#4646f5" stroke="#101050" stroke-width="0.55"/>
<circle cx="662.20" cy="497.68" r="3.0" fill="#4646f5" stroke="#101050" stroke-width="0.55"/>
<line x1="652.70" y1="545.27" x2="671.70" y2="545.27" stroke="#111" stroke-width="0.8" />
<line x1="662.20" y1="529.50" x2="662.20" y2="561.04" stroke="#666" stroke-width="0.7" />
<line x1="659.00" y1="529.50" x2="665.40" y2="529.50" stroke="#444" stroke-width="0.7" />
<line x1="659.00" y1="561.04" x2="665.40" y2="561.04" stroke="#444" stroke-width="0.7" />
<text x="571.50" y="510.50" font-size="9.2" text-anchor="middle" fill="#000" stroke="#000" stroke-width="0.14" transform="rotate(-90 571.50 510.50)">Mean RRX intensity</text>
<text x="583.80" y="510.50" font-size="9.2" text-anchor="middle" fill="#000" stroke="#000" stroke-width="0.14" transform="rotate(-90 583.80 510.50)">per cell (a.u.)</text>
<text x="623.00" y="450.70" font-size="9.2" fill="#000" stroke="#000" stroke-width="0.14" text-anchor="start"><tspan font-style="italic">p</tspan> &lt; 0.0001</text>
<line x1="632.70" y1="455.50" x2="663.00" y2="455.50" stroke="#333" stroke-width="0.9" /></g>
<g id="schematic"><text x="89.80" y="349.70" font-size="9.15" text-anchor="middle" fill="#000" stroke="#000" stroke-width="0.14">Low-expressing</text>
<text x="89.80" y="360.50" font-size="9.15" text-anchor="middle" fill="#000" stroke="#000" stroke-width="0.14">cells -Violet</text>
<text x="177.50" y="349.80" font-size="9.2" text-anchor="middle" fill="#000" stroke="#000" stroke-width="0.14">High-expressing</text>
<text x="177.50" y="360.60" font-size="9.2" text-anchor="middle" fill="#000" stroke="#000" stroke-width="0.14">cells -Deep Red</text>
<path d="M53.8,401.5 A34.7,18 0 0 1 123.2,401.5 L123.7,406 A35.2,20 0 0 1 53.3,406Z" fill="#fdeaf0" stroke="#f284ad" stroke-width="0.7"/>
<path d="M54.5,399 A34.0,17.5 0 0 0 122.5,399" fill="none" stroke="#a2a2a2" stroke-width="0.55"/>
<path d="M56.0,399 A32.5,16.2 0 0 0 121.0,399" fill="none" stroke="#b0b0b0" stroke-width="0.5"/>
<path d="M55.2,402.5 A33.3,17.2 0 0 1 121.8,402.5" fill="none" stroke="#b4b4b4" stroke-width="0.5"/>
<g transform="translate(91.0,407.9) rotate(-13)"><path d="M-8.3,0 Q-2.8,-1.0 0,-3.1 Q2.8,-1.0 8.3,0 Q2.8,1.0 0,3.1 Q-2.8,1.0 -8.3,0Z" fill="#8484dc" opacity="0.72"/><ellipse cx="0" cy="0" rx="2" ry="1.3" fill="#0a0a96"/></g>
<g transform="translate(72.5,395.7) rotate(-43)"><path d="M-8.8,0 Q-2.9,-1.1 0,-3.2 Q2.9,-1.1 8.8,0 Q2.9,1.1 0,3.2 Q-2.9,1.1 -8.8,0Z" fill="#8484dc" opacity="0.72"/><ellipse cx="0" cy="0" rx="2" ry="1.3" fill="#0a0a96"/></g>
<g transform="translate(114.1,401.3) rotate(-24)"><path d="M-9.1,0 Q-3.0,-1.1 0,-3.2 Q3.0,-1.1 9.1,0 Q3.0,1.1 0,3.2 Q-3.0,1.1 -9.1,0Z" fill="#8484dc" opacity="0.72"/><ellipse cx="0" cy="0" rx="2" ry="1.3" fill="#0a0a96"/></g>
<g transform="translate(65.2,402.2) rotate(-2)"><path d="M-9.2,0 Q-3.1,-1.2 0,-3.5 Q3.1,-1.2 9.2,0 Q3.1,1.2 0,3.5 Q-3.1,1.2 -9.2,0Z" fill="#8484dc" opacity="0.72"/><ellipse cx="0" cy="0" rx="2" ry="1.3" fill="#0a0a96"/></g>
<g transform="translate(82.8,397.5) rotate(13)"><path d="M-8.8,0 Q-2.9,-1.0 0,-3.0 Q2.9,-1.0 8.8,0 Q2.9,1.0 0,3.0 Q-2.9,1.0 -8.8,0Z" fill="#8484dc" opacity="0.72"/><ellipse cx="0" cy="0" rx="2" ry="1.3" fill="#0a0a96"/></g>
<g transform="translate(102.7,395.2) rotate(24)"><path d="M-9.5,0 Q-3.2,-0.9 0,-2.8 Q3.2,-0.9 9.5,0 Q3.2,0.9 0,2.8 Q-3.2,0.9 -9.5,0Z" fill="#8484dc" opacity="0.72"/><ellipse cx="0" cy="0" rx="2" ry="1.3" fill="#0a0a96"/></g>
<g transform="translate(90.6,392.8) rotate(-20)"><path d="M-8.1,0 Q-2.7,-1.2 0,-3.6 Q2.7,-1.2 8.1,0 Q2.7,1.2 0,3.6 Q-2.7,1.2 -8.1,0Z" fill="#8484dc" opacity="0.72"/><ellipse cx="0" cy="0" rx="2" ry="1.3" fill="#0a0a96"/></g>
<g transform="translate(112.8,396.8) rotate(-40)"><path d="M-8.8,0 Q-2.9,-1.0 0,-3.1 Q2.9,-1.0 8.8,0 Q2.9,1.0 0,3.1 Q-2.9,1.0 -8.8,0Z" fill="#8484dc" opacity="0.72"/><ellipse cx="0" cy="0" rx="2" ry="1.3" fill="#0a0a96"/></g>
<g transform="translate(97.8,404.0) rotate(47)"><path d="M-7.0,0 Q-2.3,-1.0 0,-3.0 Q2.3,-1.0 7.0,0 Q2.3,1.0 0,3.0 Q-2.3,1.0 -7.0,0Z" fill="#8484dc" opacity="0.72"/><ellipse cx="0" cy="0" rx="2" ry="1.3" fill="#0a0a96"/></g>
<g transform="translate(83.4,407.3) rotate(-11)"><path d="M-9.0,0 Q-3.0,-0.9 0,-2.6 Q3.0,-0.9 9.0,0 Q3.0,0.9 0,2.6 Q-3.0,0.9 -9.0,0Z" fill="#8484dc" opacity="0.72"/><ellipse cx="0" cy="0" rx="2" ry="1.3" fill="#0a0a96"/></g>
<g transform="translate(77.3,406.7) rotate(8)"><path d="M-9.2,0 Q-3.1,-1.1 0,-3.2 Q3.1,-1.1 9.2,0 Q3.1,1.1 0,3.2 Q-3.1,1.1 -9.2,0Z" fill="#8484dc" opacity="0.72"/><ellipse cx="0" cy="0" rx="2" ry="1.3" fill="#0a0a96"/></g>
<g transform="translate(102.5,408.4) rotate(46)"><path d="M-7.2,0 Q-2.4,-1.1 0,-3.2 Q2.4,-1.1 7.2,0 Q2.4,1.1 0,3.2 Q-2.4,1.1 -7.2,0Z" fill="#8484dc" opacity="0.72"/><ellipse cx="0" cy="0" rx="2" ry="1.3" fill="#0a0a96"/></g>
<g transform="translate(88.0,403.0) rotate(35)"><path d="M-8.6,0 Q-2.9,-1.1 0,-3.3 Q2.9,-1.1 8.6,0 Q2.9,1.1 0,3.3 Q-2.9,1.1 -8.6,0Z" fill="#8484dc" opacity="0.72"/><ellipse cx="0" cy="0" rx="2" ry="1.3" fill="#0a0a96"/></g>
<g transform="translate(97.5,400.3) rotate(30)"><path d="M-8.2,0 Q-2.7,-1.1 0,-3.3 Q2.7,-1.1 8.2,0 Q2.7,1.1 0,3.3 Q-2.7,1.1 -8.2,0Z" fill="#8484dc" opacity="0.72"/><ellipse cx="0" cy="0" rx="2" ry="1.3" fill="#0a0a96"/></g>
<g transform="translate(80.6,402.6) rotate(-21)"><path d="M-9.6,0 Q-3.2,-0.9 0,-2.6 Q3.2,-0.9 9.6,0 Q3.2,0.9 0,2.6 Q-3.2,0.9 -9.6,0Z" fill="#8484dc" opacity="0.72"/><ellipse cx="0" cy="0" rx="2" ry="1.3" fill="#0a0a96"/></g>
<g transform="translate(108.6,399.6) rotate(50)"><path d="M-7.2,0 Q-2.4,-1.1 0,-3.3 Q2.4,-1.1 7.2,0 Q2.4,1.1 0,3.3 Q-2.4,1.1 -7.2,0Z" fill="#8484dc" opacity="0.72"/><ellipse cx="0" cy="0" rx="2" ry="1.3" fill="#0a0a96"/></g>
<g transform="translate(79.2,409.5) rotate(40)"><path d="M-10.4,0 Q-3.5,-1.0 0,-2.9 Q3.5,-1.0 10.4,0 Q3.5,1.0 0,2.9 Q-3.5,1.0 -10.4,0Z" fill="#8484dc" opacity="0.72"/><ellipse cx="0" cy="0" rx="2" ry="1.3" fill="#0a0a96"/></g>
<ellipse cx="88.5" cy="395" rx="35.5" ry="20" fill="none" stroke="#959595" stroke-width="0.6"/>
<ellipse cx="88.5" cy="395" rx="33.9" ry="18.6" fill="none" stroke="#a0a0a0" stroke-width="0.55"/>
<path d="M53.0,395 L53.0,406 A35.5,20 0 0 0 124.0,406 L124.0,395" fill="none" stroke="#9c9c9c" stroke-width="0.6"/>
<path d="M140.3,401.5 A34.7,18 0 0 1 209.7,401.5 L210.2,406 A35.2,20 0 0 1 139.8,406Z" fill="#fdeaf0" stroke="#f284ad" stroke-width="0.7"/>
<path d="M141.0,399 A34.0,17.5 0 0 0 209.0,399" fill="none" stroke="#a2a2a2" stroke-width="0.55"/>
<path d="M142.5,399 A32.5,16.2 0 0 0 207.5,399" fill="none" stroke="#b0b0b0" stroke-width="0.5"/>
<path d="M141.7,402.5 A33.3,17.2 0 0 1 208.3,402.5" fill="none" stroke="#b4b4b4" stroke-width="0.5"/>
<g transform="translate(179.9,410.2) rotate(-37)"><path d="M-7.6,0 Q-2.5,-1.1 0,-3.3 Q2.5,-1.1 7.6,0 Q2.5,1.1 0,3.3 Q-2.5,1.1 -7.6,0Z" fill="#c838c8" opacity="0.88"/><ellipse cx="0" cy="0" rx="2" ry="1.3" fill="#ad18ad"/></g>
<g transform="translate(173.8,397.7) rotate(-25)"><path d="M-10.4,0 Q-3.5,-0.9 0,-2.8 Q3.5,-0.9 10.4,0 Q3.5,0.9 0,2.8 Q-3.5,0.9 -10.4,0Z" fill="#c838c8" opacity="0.88"/><ellipse cx="0" cy="0" rx="2" ry="1.3" fill="#ad18ad"/></g>
<g transform="translate(188.4,400.5) rotate(14)"><path d="M-9.7,0 Q-3.2,-1.0 0,-2.9 Q3.2,-1.0 9.7,0 Q3.2,1.0 0,2.9 Q-3.2,1.0 -9.7,0Z" fill="#c838c8" opacity="0.88"/><ellipse cx="0" cy="0" rx="2" ry="1.3" fill="#ad18ad"/></g>
<g transform="translate(158.4,402.2) rotate(-1)"><path d="M-7.0,0 Q-2.3,-1.1 0,-3.4 Q2.3,-1.1 7.0,0 Q2.3,1.1 0,3.4 Q-2.3,1.1 -7.0,0Z" fill="#c838c8" opacity="0.88"/><ellipse cx="0" cy="0" rx="2" ry="1.3" fill="#ad18ad"/></g>
<g transform="translate(154.6,405.7) rotate(-12)"><path d="M-8.2,0 Q-2.7,-0.9 0,-2.8 Q2.7,-0.9 8.2,0 Q2.7,0.9 0,2.8 Q-2.7,0.9 -8.2,0Z" fill="#c838c8" opacity="0.88"/><ellipse cx="0" cy="0" rx="2" ry="1.3" fill="#ad18ad"/></g>
<g transform="translate(186.4,403.8) rotate(49)"><path d="M-8.5,0 Q-2.8,-0.9 0,-2.8 Q2.8,-0.9 8.5,0 Q2.8,0.9 0,2.8 Q-2.8,0.9 -8.5,0Z" fill="#c838c8" opacity="0.88"/><ellipse cx="0" cy="0" rx="2" ry="1.3" fill="#ad18ad"/></g>
<g transform="translate(195.6,403.5) rotate(-12)"><path d="M-8.4,0 Q-2.8,-1.0 0,-3.0 Q2.8,-1.0 8.4,0 Q2.8,1.0 0,3.0 Q-2.8,1.0 -8.4,0Z" fill="#c838c8" opacity="0.88"/><ellipse cx="0" cy="0" rx="2" ry="1.3" fill="#ad18ad"/></g>
<g transform="translate(167.7,395.6) rotate(19)"><path d="M-8.5,0 Q-2.8,-1.1 0,-3.2 Q2.8,-1.1 8.5,0 Q2.8,1.1 0,3.2 Q-2.8,1.1 -8.5,0Z" fill="#c838c8" opacity="0.88"/><ellipse cx="0" cy="0" rx="2" ry="1.3" fill="#ad18ad"/></g>
<g transform="translate(192.8,396.1) rotate(-36)"><path d="M-8.0,0 Q-2.7,-0.9 0,-2.7 Q2.7,-0.9 8.0,0 Q2.7,0.9 0,2.7 Q-2.7,0.9 -8.0,0Z" fill="#c838c8" opacity="0.88"/><ellipse cx="0" cy="0" rx="2" ry="1.3" fill="#ad18ad"/></g>
<g transform="translate(164.1,400.8) rotate(45)"><path d="M-7.3,0 Q-2.4,-0.9 0,-2.7 Q2.4,-0.9 7.3,0 Q2.4,0.9 0,2.7 Q-2.4,0.9 -7.3,0Z" fill="#c838c8" opacity="0.88"/><ellipse cx="0" cy="0" rx="2" ry="1.3" fill="#ad18ad"/></g>
<g transform="translate(155.7,396.4) rotate(38)"><path d="M-8.8,0 Q-2.9,-1.0 0,-3.0 Q2.9,-1.0 8.8,0 Q2.9,1.0 0,3.0 Q-2.9,1.0 -8.8,0Z" fill="#c838c8" opacity="0.88"/><ellipse cx="0" cy="0" rx="2" ry="1.3" fill="#ad18ad"/></g>
<g transform="translate(172.4,406.3) rotate(38)"><path d="M-9.8,0 Q-3.3,-1.0 0,-3.1 Q3.3,-1.0 9.8,0 Q3.3,1.0 0,3.1 Q-3.3,1.0 -9.8,0Z" fill="#c838c8" opacity="0.88"/><ellipse cx="0" cy="0" rx="2" ry="1.3" fill="#ad18ad"/></g>
<g transform="translate(191.6,407.1) rotate(-40)"><path d="M-9.5,0 Q-3.2,-1.2 0,-3.6 Q3.2,-1.2 9.5,0 Q3.2,1.2 0,3.6 Q-3.2,1.2 -9.5,0Z" fill="#c838c8" opacity="0.88"/><ellipse cx="0" cy="0" rx="2" ry="1.3" fill="#ad18ad"/></g>
<g transform="translate(199.6,397.7) rotate(0)"><path d="M-7.2,0 Q-2.4,-0.9 0,-2.6 Q2.4,-0.9 7.2,0 Q2.4,0.9 0,2.6 Q-2.4,0.9 -7.2,0Z" fill="#c838c8" opacity="0.88"/><ellipse cx="0" cy="0" rx="2" ry="1.3" fill="#ad18ad"/></g>
<g transform="translate(179.4,404.2) rotate(3)"><path d="M-7.5,0 Q-2.5,-1.0 0,-3.0 Q2.5,-1.0 7.5,0 Q2.5,1.0 0,3.0 Q-2.5,1.0 -7.5,0Z" fill="#c838c8" opacity="0.88"/><ellipse cx="0" cy="0" rx="2" ry="1.3" fill="#ad18ad"/></g>
<g transform="translate(176.1,401.6) rotate(-16)"><path d="M-9.0,0 Q-3.0,-1.1 0,-3.3 Q3.0,-1.1 9.0,0 Q3.0,1.1 0,3.3 Q-3.0,1.1 -9.0,0Z" fill="#c838c8" opacity="0.88"/><ellipse cx="0" cy="0" rx="2" ry="1.3" fill="#ad18ad"/></g>
<g transform="translate(184.8,397.9) rotate(-10)"><path d="M-8.2,0 Q-2.7,-1.2 0,-3.6 Q2.7,-1.2 8.2,0 Q2.7,1.2 0,3.6 Q-2.7,1.2 -8.2,0Z" fill="#c838c8" opacity="0.88"/><ellipse cx="0" cy="0" rx="2" ry="1.3" fill="#ad18ad"/></g>
<ellipse cx="175" cy="395" rx="35.5" ry="20" fill="none" stroke="#959595" stroke-width="0.6"/>
<ellipse cx="175" cy="395" rx="33.9" ry="18.6" fill="none" stroke="#a0a0a0" stroke-width="0.55"/>
<path d="M139.5,395 L139.5,406 A35.5,20 0 0 0 210.5,406 L210.5,395" fill="none" stroke="#9c9c9c" stroke-width="0.6"/>
<text x="230.75" y="383.70" font-size="9.0" fill="#000" stroke="#000" stroke-width="0.14">Mix</text>
<line x1="225.80" y1="393.50" x2="243.70" y2="393.50" stroke="#231815" stroke-width="1.0" /><path d="M248.70,393.50 L240.40,390.20 L242.50,393.50 L240.40,396.80Z" fill="#231815"/>
<path d="M275.4,384.8 L287.8,384.8 L287.8,405.2 L282.6,420.6 Q281.7,422 280.8,420.6 L275.4,405.2Z" fill="#f3f3f3" stroke="#aaa" stroke-width="0.6"/>
<path d="M275.9,392 L287.3,392 L287.3,405.1 L282.3,420 Q281.7,421 281.1,420 L275.9,405.1Z" fill="#fcebf1"/>
<path d="M284.3,392 h3.5 M284.3,398 h3.5" stroke="#555" stroke-width="0.6"/>
<g transform="translate(274.6,384.6) rotate(-31)"><path d="M0,0 C-1.5,-0.5 -2.2,-1.6 -2.2,-3.2" fill="none" stroke="#888" stroke-width="0.6"/><rect x="-4.2" y="-20.5" width="4.2" height="17.5" rx="1.4" fill="#f4f4f4" stroke="#888" stroke-width="0.6"/><path d="M-2.8,-19.5 V-4 M-1.4,-19.5 V-4" stroke="#999" stroke-width="0.45"/></g>
<circle cx="279.6" cy="402.6" r="1.45" fill="#c814c8"/>
<circle cx="283.2" cy="402.6" r="1.45" fill="#2a2ac8"/>
<circle cx="279.3" cy="406.9" r="1.45" fill="#2a2ac8"/>
<circle cx="284.2" cy="406.9" r="1.45" fill="#c814c8"/>
<circle cx="282.3" cy="410.2" r="1.45" fill="#c814c8"/>
<circle cx="281.7" cy="414.1" r="1.45" fill="#2a2ac8"/>
<text x="308.10" y="349.60" font-size="9.1" text-anchor="middle" fill="#000" stroke="#000" stroke-width="0.14">Binary mixture</text>
<circle cx="300.7" cy="365.5" r="5.9" fill="#9a9ad8"/><circle cx="299.9" cy="365.1" r="2" fill="#00008b"/>
<circle cx="317.7" cy="361.9" r="5.6" fill="#dc6adc"/><circle cx="316.8" cy="361.2" r="2.2" fill="#b400b4"/>
<path d="M295.7,381.6 C302,375 312,372.5 322,377" fill="none" stroke="#231815" stroke-width="1.3"/>
<path d="M328.6,381.4 L322.7,372.2 L321.6,377.2 L317.6,379.4Z" fill="#231815"/>
<rect x="345.3" y="388.3" width="59.4" height="26.2" fill="#fff1f6"/>
<path d="M345.3,388.3 H404.7" stroke="#f07aa8" stroke-width="0.7"/>
<path d="M349.0,412.6 C353.7,410.2 355.0,406.3 358.7,404.5 C360.4,404.1 362.9,404.1 364.7,404.6 C368.2,406.3 369.1,410.2 373.8,412.5 C370.1,413.2 367.6,414.0 365.1,413.5 C363.3,412.8 362.0,412.6 360.2,413.4 C357.7,414.2 354.0,413.5 349.0,412.6Z" fill="#9494d4"/><ellipse cx="361.7" cy="409.0" rx="2.6" ry="2.0" fill="#00008b"/>
<path d="M375.4,412.6 C380.1,410.2 381.4,406.3 385.1,404.5 C386.9,404.1 389.4,404.1 391.3,404.6 C394.8,406.3 395.6,410.2 400.4,412.5 C396.6,413.2 394.1,414.0 391.6,413.5 C389.8,412.8 388.5,412.6 386.6,413.4 C384.1,414.2 380.4,413.5 375.4,412.6Z" fill="#d45ad4"/><ellipse cx="388.2" cy="409.0" rx="2.6" ry="2.0" fill="#b800b8"/>
<rect x="342" y="373.8" width="3.4" height="40.6" fill="#eee" stroke="#444" stroke-width="0.7"/>
<rect x="404.6" y="373.8" width="3.4" height="40.6" fill="#eee" stroke="#444" stroke-width="0.7"/>
<rect x="334.4" y="414.4" width="80.4" height="5.6" fill="#fafafa" stroke="#444" stroke-width="0.7"/>
<text x="428.20" y="386.20" font-size="9.25" fill="#000" stroke="#000" stroke-width="0.14">Incubate</text>
<line x1="434.20" y1="396.50" x2="452.00" y2="396.50" stroke="#231815" stroke-width="1.0" /><path d="M457.00,396.50 L448.70,393.20 L450.80,396.50 L448.70,399.80Z" fill="#231815"/>
<text x="508.20" y="342.60" font-size="9.25" text-anchor="middle" fill="#000" stroke="#000" stroke-width="0.14">Low-expressing</text>
<text x="594.10" y="342.60" font-size="9.22" text-anchor="middle" fill="#000" stroke="#000" stroke-width="0.14">High-expressing</text>
<path d="M481.2,363.9 C491.6,358.7 494.4,350.4 502.6,346.7 C506.5,345.8 512.0,345.8 516.1,346.9 C523.8,350.4 525.8,358.7 536.2,363.7 C528.0,365.2 522.5,366.9 517.0,365.7 C512.8,364.2 510.1,363.9 505.9,365.5 C500.4,367.3 492.2,365.7 481.2,363.9Z" fill="#9c9cd4"/><ellipse cx="509.0" cy="358.0" rx="5.7" ry="4.3" fill="#00008b"/>
<path d="M566.8,363.9 C577.2,358.7 580.0,350.4 588.2,346.7 C592.1,345.8 597.6,345.8 601.7,346.9 C609.4,350.4 611.3,358.7 621.8,363.7 C613.5,365.2 608.0,366.9 602.5,365.7 C598.4,364.2 595.7,363.9 591.5,365.5 C586.0,367.3 577.8,365.7 566.8,363.9Z" fill="#d45ad4"/><ellipse cx="594.6" cy="358.0" rx="5.7" ry="4.3" fill="#c000c0"/>
<circle cx="487" cy="372" r="3.6" fill="#e60012"/><path d="M485.4,370.4 l3.2,3.2 M488.6,370.4 l-3.2,3.2" stroke="#fff" stroke-width="0.9"/>
<text x="469.60" y="385.80" font-size="9.0" font-style="italic" fill="#000" stroke="#000" stroke-width="0.14">F</text>
<line x1="481.30" y1="388.20" x2="481.30" y2="379.40" stroke="#231815" stroke-width="0.8" /><path d="M481.30,376.40 L479.20,381.40 L481.30,380.20 L483.40,381.40Z" fill="#231815"/>
<text x="555.20" y="385.40" font-size="9.0" font-style="italic" fill="#000" stroke="#000" stroke-width="0.14">F</text>
<line x1="566.70" y1="388.20" x2="566.70" y2="379.30" stroke="#231815" stroke-width="0.8" /><path d="M566.70,376.30 L564.60,381.30 L566.70,380.10 L568.80,381.30Z" fill="#231815"/>
<rect x="476.5" y="424.4" width="143.4" height="5.4" fill="#fff" stroke="#444" stroke-width="0.6"/>
<ellipse cx="490.8" cy="391.5" rx="2.4" ry="1.6" fill="#fff" stroke="#333" stroke-width="0.6"/>
<path d="M492.8,392.6 L495.6,393.2 L496.4,398.8 L497.4,398.8 M493.6,393 L494.6,399.4 C494.8,401.5 494.6,403 495,404.5" fill="none" stroke="#333" stroke-width="0.55"/>
<line x1="495.00" y1="404.50" x2="531.50" y2="404.50" stroke="#333" stroke-width="0.6" />
<line x1="495.00" y1="410.20" x2="531.50" y2="410.20" stroke="#333" stroke-width="0.6" />
<path d="M496.20,404.50v5.70M498.35,404.50v5.70M500.50,404.50v5.70M502.65,404.50v5.70M504.80,404.50v5.70M506.95,404.50v5.70M509.10,404.50v5.70M511.25,404.50v5.70M513.40,404.50v5.70M515.55,404.50v5.70M517.70,404.50v5.70M519.85,404.50v5.70M522.00,404.50v5.70M524.15,404.50v5.70M526.30,404.50v5.70M528.45,404.50v5.70M530.60,404.50v5.70" stroke="#333" stroke-width="0.5" fill="none"/>
<circle cx="533.2" cy="404.1" r="2.3" fill="#231815"/>
<polygon points="533.20,407.70 533.91,409.23 535.58,409.43 534.34,410.57 534.67,412.22 533.20,411.40 531.73,412.22 532.06,410.57 530.82,409.43 532.49,409.23" fill="#fff" stroke="#1aa0e8" stroke-width="0.7" stroke-linejoin="round"/>
<path d="M494.60,410.20 q-1.10,1.18 0,2.37 q1.10,1.18 0,2.37 q-1.10,1.18 0,2.37 q1.10,1.18 0,2.37 q-1.10,1.18 0,2.37 q1.10,1.18 0,2.37" fill="none" stroke="#333" stroke-width="0.6"/>
<rect x="577.8" y="363.4" width="5.8" height="14" rx="1.8" fill="#8a008a" stroke="#5a005a" stroke-width="0.5"/>
<rect x="579.2" y="373" width="3.6" height="3.2" fill="none" stroke="#222" stroke-width="0.5"/>
<path d="M583,374.6 C585.4,374.6 585.8,377.6 584.6,379.4 C583.6,381 583.6,382.6 584.2,384.4 C584.8,386 586.2,386.6 588,387 L623,394.2" fill="none" stroke="#333" stroke-width="0.6"/>
<path d="M584.4,380.6 h2.8" stroke="#333" stroke-width="0.5"/>
<path d="M590.00,387.81l-0.3,2.2M592.14,388.25l-0.3,2.2M594.29,388.69l-0.3,2.2M596.43,389.13l-0.3,2.2M598.57,389.57l-0.3,2.2M600.71,390.02l-0.3,2.2M602.86,390.46l-0.3,2.2M605.00,390.90l-0.3,2.2M607.14,391.34l-0.3,2.2M609.29,391.78l-0.3,2.2M611.43,392.22l-0.3,2.2M613.57,392.66l-0.3,2.2M615.71,393.10l-0.3,2.2M617.86,393.54l-0.3,2.2M620.00,393.98l-0.3,2.2" stroke="#333" stroke-width="0.5" fill="none"/>
<circle cx="623.2" cy="394.2" r="2.3" fill="#231815"/>
<line x1="570.60" y1="410.70" x2="607.40" y2="410.70" stroke="#333" stroke-width="0.6" />
<path d="M572.00,408.20v2.50M574.16,408.20v2.50M576.33,408.20v2.50M578.49,408.20v2.50M580.65,408.20v2.50M582.81,408.20v2.50M584.98,408.20v2.50M587.14,408.20v2.50M589.30,408.20v2.50M591.46,408.20v2.50M593.62,408.20v2.50M595.79,408.20v2.50M597.95,408.20v2.50M600.11,408.20v2.50M602.27,408.20v2.50M604.44,408.20v2.50M606.60,408.20v2.50" stroke="#333" stroke-width="0.5" fill="none"/>
<path d="M570.40,410.70 q-1.10,1.14 0,2.28 q1.10,1.14 0,2.28 q-1.10,1.14 0,2.28 q1.10,1.14 0,2.28 q-1.10,1.14 0,2.28 q1.10,1.14 0,2.28" fill="none" stroke="#333" stroke-width="0.6"/>
<circle cx="610" cy="410" r="3.6" fill="#5cc8ff" opacity="0.55" filter="url(#blur1)"/>
<polygon points="610.00,407.10 610.82,408.87 612.76,409.10 611.33,410.43 611.70,412.35 610.00,411.40 608.30,412.35 608.67,410.43 607.24,409.10 609.18,408.87" fill="#e8f8ff" stroke="#1496e6" stroke-width="0.9" stroke-linejoin="round"/></g>
<g id="bottom-images"><clipPath id="c15"><rect x="5" y="475.25" width="70.6" height="69.75"/></clipPath><g clip-path="url(#c15)"><rect x="5" y="475.25" width="70.6" height="69.75" fill="#7a7a7a"/><rect x="5" y="475.25" width="70.6" height="69.75" fill="url(#bfbgh)"/><rect x="5" y="475.25" width="70.6" height="69.75" filter="url(#grain)" opacity="0.03"/><mask id="m8" maskUnits="userSpaceOnUse" x="5" y="475.25" width="70.6" height="69.75"><g filter="url(#blur1)"><path d="M5,475 L20.5,475 C21,481 18,485 14,486.5 C11,488 8,490 5,490Z" fill="#fff"/><path d="M31.9,501.9Q32.4,504.1 31.8,506.3Q31.3,508.6 29.8,510.4Q28.3,512.2 25.9,513.0Q23.6,513.9 21.4,512.9Q19.1,511.9 17.5,510.2Q15.9,508.6 15.2,506.3Q14.5,504.1 14.8,501.6Q15.0,499.2 17.1,497.7Q19.1,496.3 21.4,495.3Q23.6,494.2 26.0,494.9Q28.5,495.7 29.9,497.6Q31.3,499.6 31.9,501.9Z" fill="#777"/><path d="M40,513 C44,509 50,507 55,508 C57,514 56,521 52,525 C47,524 42,520 40,513Z" fill="#fff"/><path d="M55,506 C60,502 65,500 68,500 C69.5,508 68,520 62,526 C58,527 54,526 52,525 C56,520 57,512 55,506Z" fill="#666"/><path d="M67,475 L75.25,475 L75.25,485 C71,483 68,479 67,475Z" fill="#ddd"/><circle cx="10.8" cy="541.5" r="2.5" fill="#888"/></g></mask><g mask="url(#m8)"><rect x="5" y="475.25" width="70.6" height="69.75" filter="url(#celltex)" opacity="0.3"/></g><g filter="url(#wob)"><path d="M12,512 C10,515 7,518 5,520 M38.8,515.8 C34,519 30,522 26,525 M5,538 C14,534 24,536 30,545 M30,530 C36,526 40,522 44,520" fill="none" stroke="#b4b4b4" stroke-width="0.9" opacity="0.4" stroke-linecap="round" stroke-linejoin="round" stroke-dasharray="1.6 1.1"/><path d="M12,512 C10,515 7,518 5,520 M38.8,515.8 C34,519 30,522 26,525 M5,538 C14,534 24,536 30,545 M30,530 C36,526 40,522 44,520" fill="none" stroke="#505050" stroke-width="0.7" opacity="0.32000000000000006" stroke-linecap="round" stroke-linejoin="round" transform="translate(0.7,0.5)" stroke-dasharray="1.3 1.4"/></g><path d="M32.4,502.1Q32.9,504.1 32.5,506.2Q32.1,508.2 30.8,509.9Q29.6,511.6 27.7,512.8Q25.9,514.1 23.7,513.9Q21.4,513.6 19.4,512.8Q17.3,512.0 16.3,510.1Q15.2,508.1 14.5,506.1Q13.8,504.1 14.1,501.9Q14.4,499.7 15.9,498.0Q17.5,496.4 19.4,495.2Q21.3,494.0 23.6,494.1Q25.9,494.1 27.7,495.3Q29.6,496.6 30.8,498.3Q31.9,500.1 32.4,502.1Z" fill="none" stroke="#c4c4c4" stroke-width="1.0" opacity="0.45" stroke-linecap="round" stroke-linejoin="round" stroke-dasharray="1.2 1.3" filter="url(#blur05)"/><path d="M29.3,502.4Q30.2,504.1 29.1,505.7Q28.0,507.3 26.8,508.7Q25.5,510.1 23.6,509.9Q21.8,509.8 20.0,508.9Q18.3,507.9 18.0,506.0Q17.7,504.1 18.0,502.2Q18.3,500.3 20.1,499.5Q21.9,498.8 23.8,498.3Q25.6,497.8 27.0,499.2Q28.4,500.6 29.3,502.4Z" fill="none" stroke="#a8a8a8" stroke-width="0.9" opacity="0.5" stroke-linecap="round" stroke-linejoin="round" filter="url(#blur05)"/><path d="M20.7,475 C21,480 19,484 15.5,485.8 C13,487 11,488 9,488.6" fill="none" stroke="#222" stroke-width="1.3" opacity="0.7" stroke-linecap="round" stroke-linejoin="round" filter="url(#blur05)"/><path d="M6,478 C9,477 12,479 14,482 M7,484 C9,485 11,484 12,483" fill="none" stroke="#e6e6e6" stroke-width="1.6" opacity="0.8" stroke-linecap="round" stroke-linejoin="round" filter="url(#blur05)"/><path d="M40,512.5 C48,506 58,502 64,498 C66,496.5 67.5,495 68.5,493" fill="none" stroke="#444" stroke-width="0.8" opacity="0.75" stroke-linecap="round" stroke-linejoin="round" filter="url(#blur05)"/><path d="M68,500 C69.5,508 68,519 62,526 C58,527.5 55,527 52,525.5" fill="none" stroke="#6a6a6a" stroke-width="0.7" opacity="0.6" stroke-linecap="round" stroke-linejoin="round" filter="url(#blur05)"/><path d="M43,512 C45,510.5 48,510.5 50,512 M45,517 C47,516 50,516.5 51,518.5 M46.5,521 L48,523" fill="none" stroke="#f2f2f2" stroke-width="2.0" opacity="0.9" stroke-linecap="round" stroke-linejoin="round" filter="url(#blur05)"/><path d="M41.5,515 C42.5,519 44.5,522 47,524 M51.5,513.5 C52.5,515 52.5,517 52,518" fill="none" stroke="#333" stroke-width="1.1" opacity="0.75" stroke-linecap="round" stroke-linejoin="round" filter="url(#blur05)"/><path d="M56,511 L58,510 M60,513 L62,512.5 M58,517 L60,516.5 M62,508 L64,507.5" fill="none" stroke="#bdbdbd" stroke-width="1.3" opacity="0.7" stroke-linecap="round" stroke-linejoin="round" filter="url(#blur05)"/><rect x="51" y="540.9" width="20.4" height="1.5" fill="#eee"/></g>
<clipPath id="c16"><rect x="76.0" y="475.25" width="69.2" height="69.75"/></clipPath><g clip-path="url(#c16)"><rect x="76.0" y="475.25" width="69.2" height="69.75" fill="#040010"/><g filter="url(#speck2)"><rect x="76.0" y="475.25" width="69.2" height="69.75" fill="#040010"/><g filter="url(#blur1)"><path d="M76,477 L90,477 C92,482 90,488 86,491 C82,494 79,494 76,496Z" fill="#a020b0" opacity="0.28"/><path d="M142,475 L146.5,475 L146.5,488 C144,484 142,480 142,475Z" fill="#1616e6" opacity="0.3"/><path d="M76,535 C84,531 90,529 97,528.6 C104,529 110,531 114.4,532 C119,536 122,540 125,546 L76,546Z" fill="#1010d0" opacity="0.27"/><path d="M140,493.6 C141,505 143,520 143.5,529.7 C134,528 118,525 100.5,523.3 C104,519 106,516 108,513.4 C116,509 130,502 140,493.6Z" fill="#1616e6" opacity="0.72"/><path d="M130.4,517.0Q132.3,518.5 131.0,520.4Q129.7,522.2 126.4,523.2Q123.0,524.1 120.1,522.9Q117.2,521.7 115.3,520.1Q113.5,518.5 114.5,516.5Q115.6,514.4 119.3,513.5Q123.0,512.7 125.8,514.0Q128.6,515.4 130.4,517.0Z" fill="#3a3aff" opacity="0.5"/><path d="M78.9,516.3 C80,510 80.5,506 81.2,501.8 C83,498 86,496 88.8,494.2 C92,492.8 96,492.3 99.3,492.5 C103,494 107,496.5 109.8,499.5 C111,502 111.2,505 110.9,507.6 C109,510 107,512 105.1,513.4 C101,514.6 97,515 93.5,515.2 C88,514.5 83,515 78.9,516.3Z" fill="#d82ae0" opacity="0.78"/><path d="M103.9,500.4Q104.2,503.0 103.6,505.4Q103.0,507.9 100.5,509.3Q98.1,510.8 94.9,511.0Q91.8,511.2 90.1,509.1Q88.3,507.0 86.3,505.0Q84.3,503.0 85.9,500.7Q87.5,498.5 89.7,496.8Q91.9,495.2 95.0,495.2Q98.1,495.1 100.8,496.5Q103.5,497.8 103.9,500.4Z" fill="#ff60ff" opacity="0.25"/></g></g></g>
<rect x="145.2" y="475.25" width="2" height="69.6" fill="#9c9c9c"/>
<clipPath id="c17"><rect x="147.1" y="475.25" width="69.2" height="69.75"/></clipPath><g clip-path="url(#c17)"><rect x="147.1" y="475.25" width="69.2" height="69.75" fill="#000"/><g filter="url(#cyanhot)"><rect x="147.1" y="475.25" width="69.2" height="69.75" fill="#000"/><g filter="url(#blur1)"><path d="M220.4,511.4Q218.2,516.0 220.4,520.6Q222.7,525.1 219.2,528.9Q215.8,532.7 210.7,535.2Q205.6,537.6 199.8,537.9Q194.0,538.3 188.3,537.8Q182.6,537.2 180.9,532.3Q179.3,527.3 174.0,525.7Q168.8,524.0 169.7,520.0Q170.6,516.0 169.2,511.8Q167.8,507.6 171.9,504.9Q176.1,502.2 180.0,499.7Q183.8,497.1 188.9,496.4Q194.0,495.7 199.1,496.3Q204.3,497.0 209.5,498.5Q214.8,500.0 218.7,503.4Q222.6,506.9 220.4,511.4Z" fill="#fff" opacity="0.035"/><path d="M147,487 C149,491 151,493.5 153,493 C156,492 158,490.5 160.5,490" fill="none" stroke="#fff" stroke-width="2.6" opacity="0.34" stroke-linecap="round" stroke-linejoin="round"/><path d="M147,485 C151,486 155,485 158.6,483.2 C161,482 162.5,480.5 163.3,478.5" fill="none" stroke="#fff" stroke-width="2.4" opacity="0.2" stroke-linecap="round" stroke-linejoin="round"/><path d="M150,478 C153,477 156,477.5 158,479" fill="none" stroke="#fff" stroke-width="2.2" opacity="0.08" stroke-linecap="round" stroke-linejoin="round"/><path d="M183.5,501.9Q185.2,504.0 182.0,505.7Q178.8,507.3 179.3,510.0Q179.7,512.7 177.4,514.8Q175.1,516.8 171.6,517.3Q168.0,517.8 165.0,516.3Q162.0,514.7 159.1,513.7Q156.2,512.8 155.5,510.4Q154.8,508.1 153.5,506.0Q152.2,504.0 154.6,502.3Q157.0,500.6 156.4,497.8Q155.8,495.0 158.8,493.9Q161.7,492.7 164.9,493.4Q168.0,494.0 170.7,494.1Q173.5,494.1 177.0,494.4Q180.5,494.7 181.2,497.2Q181.8,499.7 183.5,501.9Z" fill="#fff" opacity="0.19"/><path d="M179.9,501.7Q180.4,504.0 179.0,505.9Q177.7,507.8 176.3,509.8Q175.0,511.9 172.0,510.9Q169.0,509.9 166.1,510.8Q163.1,511.8 161.9,509.7Q160.6,507.7 159.2,505.8Q157.8,504.0 159.8,502.4Q161.7,500.8 163.0,499.3Q164.2,497.7 166.6,497.4Q169.0,497.1 171.4,497.4Q173.7,497.8 176.5,498.6Q179.3,499.5 179.9,501.7Z" fill="#fff" opacity="0.16"/><path d="M172.3,502.7Q172.8,504.0 172.3,505.3Q171.8,506.7 170.2,507.0Q168.5,507.4 166.8,507.0Q165.1,506.7 164.2,505.3Q163.3,504.0 164.0,502.5Q164.7,501.0 166.6,500.7Q168.5,500.5 170.1,500.9Q171.8,501.4 172.3,502.7Z" fill="#fff" opacity="0.16"/><path d="M161.0,508.7Q161.6,510.0 160.8,511.2Q160.0,512.4 158.5,512.8Q157.0,513.2 154.8,513.4Q152.6,513.5 152.2,511.8Q151.8,510.0 152.4,508.4Q153.1,506.8 155.0,506.4Q157.0,505.9 158.6,506.6Q160.3,507.4 161.0,508.7Z" fill="#fff" opacity="0.08"/><path d="M192.7,508.1Q194.7,510.0 192.6,511.9Q190.6,513.8 189.4,515.6Q188.1,517.4 186.0,517.3Q183.9,517.1 181.3,516.6Q178.6,516.0 177.9,513.0Q177.2,510.0 177.6,506.7Q178.0,503.5 181.1,503.5Q184.1,503.6 186.2,502.7Q188.4,501.8 189.5,504.0Q190.6,506.2 192.7,508.1Z" fill="#fff" opacity="0.04"/><path d="M214.9,525.1Q215.6,526.2 215.5,527.6Q215.4,529.0 212.9,529.1Q210.4,529.1 208.6,529.4Q206.8,529.6 204.3,529.3Q201.7,529.1 201.4,527.6Q201.1,526.2 202.6,525.2Q204.1,524.3 205.4,523.5Q206.7,522.7 209.0,522.2Q211.3,521.7 212.7,522.8Q214.2,523.9 214.9,525.1Z" fill="#fff" opacity="0.05"/><circle cx="183.7" cy="497.1" r="1.1" fill="#fff" opacity="0.55"/><circle cx="193.6" cy="496" r="0.9" fill="#fff" opacity="0.4"/></g></g></g>
<clipPath id="c18"><rect x="345.25" y="475.25" width="69.75" height="69.75"/></clipPath><g clip-path="url(#c18)"><rect x="345.25" y="475.25" width="69.75" height="69.75" fill="#7a7a7a"/><rect x="345.25" y="475.25" width="69.75" height="69.75" fill="url(#bfbgj)"/><rect x="345.25" y="475.25" width="69.75" height="69.75" filter="url(#grain)" opacity="0.03"/><mask id="m9" maskUnits="userSpaceOnUse" x="345.25" y="475.25" width="69.75" height="69.75"><g filter="url(#blur1)"><path d="M371.1,486.6Q371.2,489.0 370.5,491.0Q369.8,493.0 368.4,494.4Q367.1,495.8 365.3,497.6Q363.6,499.5 361.5,498.3Q359.5,497.0 357.8,495.4Q356.1,493.8 355.8,491.4Q355.4,489.0 356.2,486.9Q357.0,484.7 358.1,482.6Q359.2,480.5 361.4,480.1Q363.6,479.7 365.8,480.0Q368.0,480.3 369.5,482.3Q371.0,484.2 371.1,486.6Z" fill="#bbb"/><path d="M391.5,516.9Q392.3,519.3 391.0,521.3Q389.7,523.4 388.5,525.2Q387.4,527.0 385.4,527.5Q383.4,528.0 381.1,528.1Q378.8,528.1 377.2,526.2Q375.6,524.3 374.8,521.8Q373.9,519.3 375.4,517.2Q377.0,515.1 378.1,513.2Q379.2,511.3 381.3,511.2Q383.4,511.1 385.3,511.5Q387.3,511.8 389.0,513.2Q390.8,514.5 391.5,516.9Z" fill="#eee"/><path d="M353.9,538.2Q354.3,540.0 354.0,541.9Q353.7,543.7 351.9,544.1Q350.0,544.5 348.3,544.0Q346.5,543.5 345.6,541.7Q344.7,540.0 345.4,538.1Q346.2,536.2 348.1,535.6Q350.0,535.1 351.8,535.8Q353.5,536.5 353.9,538.2Z" fill="#bbb"/></g></mask><g mask="url(#m9)"><rect x="345.25" y="475.25" width="69.75" height="69.75" filter="url(#celltex)" opacity="0.22"/></g><path d="M416,521 C410,527 406.5,535 405.5,546" fill="none" stroke="#ececec" stroke-width="2.0" opacity="0.85" stroke-linecap="round" stroke-linejoin="round" filter="url(#blur05)"/><path d="M416,525 C412,530 409.5,538 409,546" fill="none" stroke="#555" stroke-width="1.0" opacity="0.6" stroke-linecap="round" stroke-linejoin="round" filter="url(#blur05)"/><path d="M416,529 C414,534 412.5,540 412.5,546" fill="none" stroke="#c8c8c8" stroke-width="1.2" opacity="0.7" stroke-linecap="round" stroke-linejoin="round" filter="url(#blur05)"/><path d="M416,517.5 C408,524 403.5,534 402.5,546" fill="none" stroke="#5a5a5a" stroke-width="0.8" opacity="0.5" stroke-linecap="round" stroke-linejoin="round" filter="url(#blur05)"/><g filter="url(#wob)"><path d="M362,528 C358,534 354,538 350,545" fill="none" stroke="#b4b4b4" stroke-width="0.9" opacity="0.3" stroke-linecap="round" stroke-linejoin="round" stroke-dasharray="1.6 1.1"/><path d="M362,528 C358,534 354,538 350,545" fill="none" stroke="#505050" stroke-width="0.7" opacity="0.24" stroke-linecap="round" stroke-linejoin="round" transform="translate(0.7,0.5)" stroke-dasharray="1.3 1.4"/></g><rect x="395.1" y="540.6" width="18" height="2.0" fill="#eee"/></g>
<clipPath id="c19"><rect x="416.25" y="475.25" width="69.75" height="69.75"/></clipPath><g clip-path="url(#c19)"><rect x="416.25" y="475.25" width="69.75" height="69.75" fill="#040012"/><g filter="url(#speck2b)"><rect x="416.25" y="475.25" width="69.75" height="69.75" fill="#040012"/><g filter="url(#blur1)"><path d="M423,479 C428,476.5 436,477 444,476.5 C449,477 452,479 454.5,483 C452,488 448,491 445,494 C444,499 440,503 435,504 C429,503.5 425,500 423.5,495 C421.5,490 421.5,484 423,479Z" fill="#1422e6" opacity="0.78"/><path d="M416,489 C419,490 420.5,493 420.5,497 C423,501 425,506 424,511 C422,515 419,517 416,518Z" fill="#1422e6" opacity="0.78"/><path d="M441,505 C443,500 447,497.5 450.5,499 C453,501 453.5,505 454,509 C455,504 458,499 462,497.5 C467,496.5 471,500 472,506 C473,513 472.5,519 472,524 C474,530 473,536 469,539.5 C464,543 457,542.5 451,540 C445,537 440,531 438,525 C436.5,518 438,511 441,505Z" fill="#b41cc0" opacity="0.66"/><path d="M464.1,528.2Q466.9,530.0 464.8,532.2Q462.7,534.5 460.5,536.2Q458.2,537.9 454.8,538.5Q451.4,539.0 449.7,536.5Q448.0,534.1 446.5,532.0Q444.9,530.0 445.7,527.6Q446.6,525.1 448.9,522.9Q451.2,520.7 454.3,522.4Q457.4,524.2 459.4,525.2Q461.3,526.3 464.1,528.2Z" fill="#f048f8" opacity="0.25"/><path d="M469.2,506.2Q469.8,509.0 469.3,512.0Q468.8,514.9 466.9,515.4Q465.0,515.8 463.2,515.2Q461.5,514.5 460.5,511.7Q459.5,509.0 460.7,506.5Q461.8,504.0 463.4,502.6Q465.0,501.2 466.8,502.3Q468.5,503.5 469.2,506.2Z" fill="#f048f8" opacity="0.18"/><path d="M449.0,506.0Q449.3,508.0 449.4,510.6Q449.5,513.2 448.0,513.1Q446.5,512.9 445.1,512.9Q443.7,512.8 443.1,510.4Q442.4,508.0 443.1,505.6Q443.7,503.2 445.1,502.9Q446.5,502.6 447.6,503.3Q448.8,504.1 449.0,506.0Z" fill="#f048f8" opacity="0.14"/><path d="M454,508 C454.3,511 454.5,513 455,516" fill="none" stroke="#12001a" stroke-width="2.0" opacity="0.75" stroke-linecap="round" stroke-linejoin="round"/><path d="M416,540 C422,536 430,535 437,538.5 L440,546 L416,546Z" fill="#b41cc0" opacity="0.36"/><path d="M428,523 L430.6,527.5 L433,523 M430.6,527.5 L430.6,533" fill="none" stroke="#b41cc0" stroke-width="1.6" opacity="0.36" stroke-linecap="round" stroke-linejoin="round"/><path d="M486.5,524 C483,530 482.5,540 484,546 L486.5,546Z" fill="#b41cc0" opacity="0.45"/></g></g></g>
<clipPath id="c20"><rect x="487.0" y="475.25" width="69.75" height="69.75"/></clipPath><g clip-path="url(#c20)"><rect x="487.0" y="475.25" width="69.75" height="69.75" fill="#000"/><g filter="url(#cyanhot)"><rect x="487.0" y="475.25" width="69.75" height="69.75" fill="#000"/><g filter="url(#blur1)"><path d="M499.8,505 C503,500 510,502 514,500 C516,496 520,495 523,499 C525,503 527,507 529,506 C533,500 538,495 542,494 C545,495 544,500 543,504 C541,508 545,512 549,517 C552,521 555,526 557,530 L557,546 L515,546 C510,540 505,535 498.6,529 C499,520 499,512 499.8,505Z" fill="#fff" opacity="0.15"/><path d="M547.3,527.4Q548.5,530.0 545.5,532.1Q542.4,534.2 542.0,537.3Q541.5,540.4 536.3,540.5Q531.2,540.5 526.3,542.4Q521.3,544.3 518.6,541.1Q515.9,537.9 510.8,536.9Q505.6,535.9 507.6,532.9Q509.5,530.0 506.6,526.8Q503.7,523.6 507.6,521.2Q511.5,518.9 517.4,519.7Q523.2,520.6 527.6,519.0Q532.0,517.4 535.1,519.7Q538.2,521.9 542.1,523.4Q546.0,524.8 547.3,527.4Z" fill="#fff" opacity="0.13"/><path d="M530,505.5 L541,495.5" fill="none" stroke="#fff" stroke-width="3.2" opacity="0.2" stroke-linecap="round" stroke-linejoin="round"/><path d="M521.9,497.0Q522.5,498.0 521.8,498.9Q521.2,499.9 520.1,500.5Q519.0,501.2 517.9,500.5Q516.8,499.8 516.2,498.9Q515.5,498.0 515.7,496.7Q515.9,495.4 517.5,495.5Q519.0,495.6 520.1,495.8Q521.2,496.1 521.9,497.0Z" fill="#fff" opacity="0.14"/><path d="M503.2,499.2Q503.3,500.0 503.1,500.7Q503.0,501.4 502.3,501.5Q501.6,501.7 500.8,501.6Q500.0,501.6 499.8,500.8Q499.6,500.0 500.0,499.4Q500.4,498.8 501.0,498.6Q501.6,498.4 502.4,498.4Q503.1,498.5 503.2,499.2Z" fill="#fff" opacity="0.3"/><path d="M510.5,524.1Q511.0,525.0 510.3,525.7Q509.6,526.5 508.8,527.0Q508.0,527.5 507.1,527.1Q506.2,526.7 505.5,525.8Q504.9,525.0 505.6,524.2Q506.2,523.4 507.1,523.0Q508.0,522.7 508.9,523.0Q509.9,523.3 510.5,524.1Z" fill="#fff" opacity="0.4"/><path d="M520.8,531 L520.8,541 M528.9,528 L528.9,538 M533.6,535 L534,543.5 M541.7,530 L543,538 M512,520 L509,527" fill="none" stroke="#fff" stroke-width="2.0" opacity="0.32" stroke-linecap="round" stroke-linejoin="round"/><path d="M505,512 L507,520 M515,508 L517,515" fill="none" stroke="#fff" stroke-width="2.2" opacity="0.1" stroke-linecap="round" stroke-linejoin="round"/><path d="M497.2,517.9Q497.6,522.0 497.2,526.2Q496.8,530.5 495.4,531.4Q494.0,532.4 492.4,532.0Q490.8,531.6 490.6,526.8Q490.4,522.0 490.8,517.7Q491.1,513.3 492.6,510.6Q494.0,508.0 495.4,510.9Q496.7,513.9 497.2,517.9Z" fill="#fff" opacity="0.03"/></g></g></g>
<rect x="170.6" y="548.3" width="39.30000000000001" height="3.4" fill="url(#cbh)" stroke="#aaa" stroke-width="0.45"/>
<text x="170.50" y="559.50" font-size="9.2" text-anchor="middle" fill="#000" stroke="#000" stroke-width="0.14">0</text>
<text x="211.50" y="559.50" font-size="9.2" text-anchor="middle" fill="#000" stroke="#000" stroke-width="0.14">300</text>
<rect x="511.2" y="548.3" width="39.19999999999999" height="3.4" fill="url(#cbh)" stroke="#aaa" stroke-width="0.45"/>
<text x="511.10" y="559.50" font-size="9.2" text-anchor="middle" fill="#000" stroke="#000" stroke-width="0.14">0</text>
<text x="552.00" y="559.50" font-size="9.2" text-anchor="middle" fill="#000" stroke="#000" stroke-width="0.14">300</text></g>
<g id="labels"><text x="6.20" y="9.90" font-size="13.6" font-weight="bold" fill="#000">a</text>
<text x="202.40" y="9.30" font-size="13.6" font-weight="bold" fill="#000">c</text>
<text x="410.70" y="9.90" font-size="13.6" font-weight="bold" fill="#000">e</text>
<text x="6.20" y="181.00" font-size="13.6" font-weight="bold" fill="#000">b</text>
<text x="202.20" y="179.90" font-size="13.6" font-weight="bold" fill="#000">d</text>
<text x="412.00" y="180.30" font-size="13.6" font-weight="bold" fill="#000">f</text>
<text x="0.20" y="342.80" font-size="13.6" font-weight="bold" fill="#000">g</text>
<text x="-0.20" y="453.00" font-size="13.6" font-weight="bold" fill="#000">h</text>
<text x="220.50" y="453.80" font-size="13.6" font-weight="bold" fill="#000">i</text>
<text x="338.40" y="453.70" font-size="13.6" font-weight="bold" fill="#000">j</text>
<text x="562.60" y="453.70" font-size="13.6" font-weight="bold" fill="#000">k</text>
<text x="66.60" y="6.20" font-size="9.1" text-anchor="middle" fill="#000" stroke="#000" stroke-width="0.14">HeLa</text>
<text x="66.60" y="17.50" font-size="9.1" text-anchor="middle" fill="#000" stroke="#000" stroke-width="0.14">(Mucin-1 high)</text>
<text x="138.20" y="6.20" font-size="9.1" text-anchor="middle" fill="#000" stroke="#000" stroke-width="0.14">HepG2</text>
<text x="138.20" y="17.50" font-size="9.1" text-anchor="middle" fill="#000" stroke="#000" stroke-width="0.14">(Mucin-1 low)</text>
<text x="271.30" y="6.10" font-size="9.1" text-anchor="middle" fill="#000" stroke="#000" stroke-width="0.14">MDA-MB-231</text>
<text x="271.30" y="16.40" font-size="9.1" text-anchor="middle" fill="#000" stroke="#000" stroke-width="0.14">(EpCAM high)</text>
<text x="343.60" y="6.10" font-size="9.1" text-anchor="middle" fill="#000" stroke="#000" stroke-width="0.14">HeLa</text>
<text x="343.60" y="16.40" font-size="9.1" text-anchor="middle" fill="#000" stroke="#000" stroke-width="0.14">(EpCAM low)</text>
<text x="460.50" y="7.20" font-size="9.1" text-anchor="middle" fill="#000" stroke="#000" stroke-width="0.14">HepG2</text>
<text x="460.50" y="18.70" font-size="9.1" text-anchor="middle" fill="#000" stroke="#000" stroke-width="0.14">(PTK7 high)</text>
<text x="531.80" y="7.20" font-size="9.1" text-anchor="middle" fill="#000" stroke="#000" stroke-width="0.14">HeLa</text>
<text x="531.80" y="18.70" font-size="9.1" text-anchor="middle" fill="#000" stroke="#000" stroke-width="0.14">(PTK7 intermediate)</text>
<text x="606.20" y="7.20" font-size="9.1" text-anchor="middle" fill="#000" stroke="#000" stroke-width="0.14">A549</text>
<text x="606.20" y="18.70" font-size="9.1" text-anchor="middle" fill="#000" stroke="#000" stroke-width="0.14">(PTK7 low)</text>
<text x="28.00" y="54.80" font-size="8.4" text-anchor="middle" fill="#000" stroke="#000" stroke-width="0.14" transform="rotate(-90 28.00 54.80)">BF</text>
<text x="28.00" y="129.10" font-size="8.4" text-anchor="middle" fill="#000" stroke="#000" stroke-width="0.14" transform="rotate(-90 28.00 129.10)">RRX</text>
<text x="234.80" y="54.80" font-size="8.4" text-anchor="middle" fill="#000" stroke="#000" stroke-width="0.14" transform="rotate(-90 234.80 54.80)">BF</text>
<text x="234.80" y="129.10" font-size="8.4" text-anchor="middle" fill="#000" stroke="#000" stroke-width="0.14" transform="rotate(-90 234.80 129.10)">RRX</text>
<text x="422.90" y="55.40" font-size="8.4" text-anchor="middle" fill="#000" stroke="#000" stroke-width="0.14" transform="rotate(-90 422.90 55.40)">BF</text>
<text x="422.90" y="129.60" font-size="8.4" text-anchor="middle" fill="#000" stroke="#000" stroke-width="0.14" transform="rotate(-90 422.90 129.60)">RRX</text>
<text x="107.60" y="453.00" font-size="9.15" text-anchor="middle" fill="#000" stroke="#000" stroke-width="0.14">Sgc8 Probe Targeting PTK7</text>
<text x="458.80" y="453.00" font-size="9.1" text-anchor="middle" fill="#000" stroke="#000" stroke-width="0.14">MUC1 S2.2 Probe Targeting MUC1</text>
<text x="38.30" y="471.70" font-size="8.0" text-anchor="middle" fill="#231815">BF</text>
<text x="111.3" y="471.7" font-size="8.0" text-anchor="middle"><tspan fill="#e040e0">HepG2</tspan><tspan fill="#231815"> / </tspan><tspan fill="#2a2aff">A549</tspan></text>
<text x="182.50" y="471.70" font-size="8.0" text-anchor="middle" fill="#231815">RRX</text>
<text x="378.30" y="471.70" font-size="8.0" text-anchor="middle" fill="#231815">BF</text>
<text x="451.9" y="471.7" font-size="8.0" text-anchor="middle"><tspan fill="#e040e0">HeLa</tspan><tspan fill="#231815"> / </tspan><tspan fill="#2a2aff">HepG2</tspan></text>
<text x="524.50" y="471.70" font-size="8.0" text-anchor="middle" fill="#231815">RRX</text></g>
</svg>
</body></html>
